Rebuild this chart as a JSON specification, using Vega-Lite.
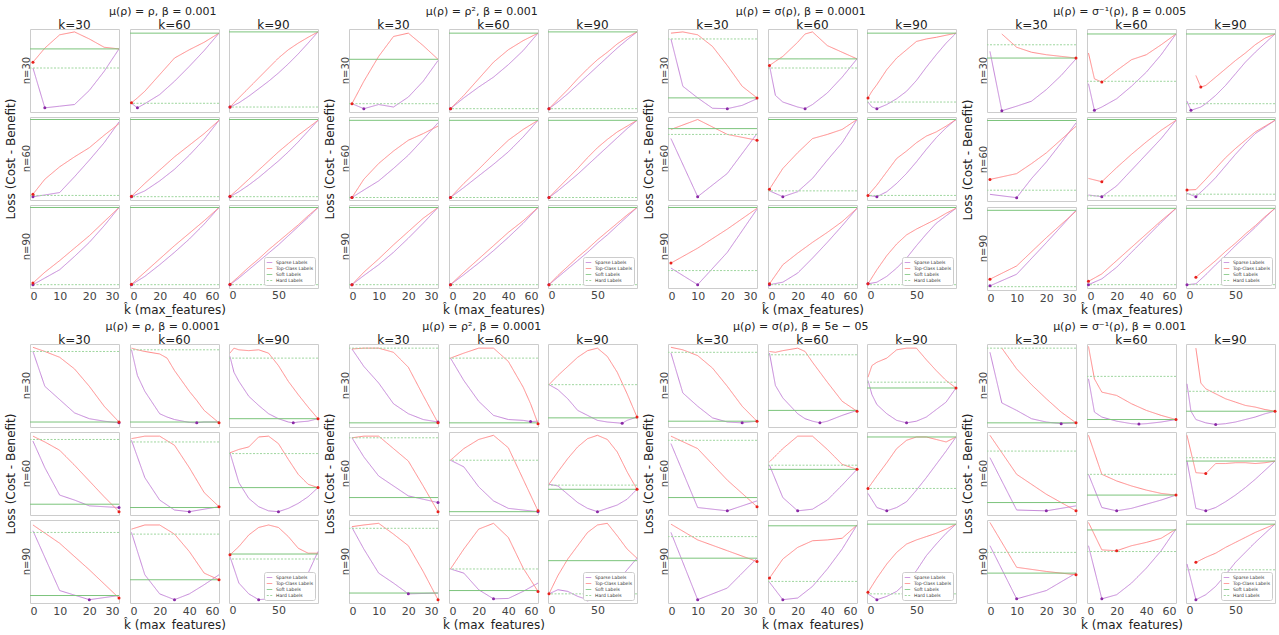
{
"$schema":"https://vega.github.io/schema/vega-lite/v6.json",
"padding":{"left":4,"right":0,"top":6,"bottom":0},
"data":{"values":[
{"g":1,"n":30,"k":30,"x":1,"sp":0.53,"tc":0.6},{"g":1,"n":30,"k":30,"x":5,"sp":0.05,"tc":0.77},{"g":1,"n":30,"k":30,"x":10,"sp":0.07,"tc":0.93},{"g":1,"n":30,"k":30,"x":15,"sp":0.09,"tc":0.965},{"g":1,"n":30,"k":30,"x":20,"sp":0.26,"tc":0.88},{"g":1,"n":30,"k":30,"x":25,"sp":0.49,"tc":0.78},{"g":1,"n":30,"k":30,"x":30,"sp":0.76,"tc":0.76},{"g":1,"n":30,"k":30,"so":0.76,"hd":0.53},
{"g":1,"n":30,"k":60,"x":1,"sp":0.105,"tc":0.11},{"g":1,"n":30,"k":60,"x":5,"sp":0.05,"tc":0.17},{"g":1,"n":30,"k":60,"x":10,"sp":0.1,"tc":0.25},{"g":1,"n":30,"k":60,"x":20,"sp":0.21,"tc":0.45},{"g":1,"n":30,"k":60,"x":30,"sp":0.37,"tc":0.65},{"g":1,"n":30,"k":60,"x":40,"sp":0.55,"tc":0.75},{"g":1,"n":30,"k":60,"x":50,"sp":0.74,"tc":0.84},{"g":1,"n":30,"k":60,"x":60,"sp":0.95,"tc":0.95},{"g":1,"n":30,"k":60,"so":0.95,"hd":0.105},
{"g":1,"n":30,"k":90,"x":1,"sp":0.06,"tc":0.06},{"g":1,"n":30,"k":90,"x":10,"sp":0.11,"tc":0.17},{"g":1,"n":30,"k":90,"x":20,"sp":0.19,"tc":0.29},{"g":1,"n":30,"k":90,"x":30,"sp":0.28,"tc":0.41},{"g":1,"n":30,"k":90,"x":40,"sp":0.37,"tc":0.53},{"g":1,"n":30,"k":90,"x":50,"sp":0.47,"tc":0.65},{"g":1,"n":30,"k":90,"x":60,"sp":0.58,"tc":0.75},{"g":1,"n":30,"k":90,"x":70,"sp":0.7,"tc":0.83},{"g":1,"n":30,"k":90,"x":80,"sp":0.83,"tc":0.9},{"g":1,"n":30,"k":90,"x":90,"sp":0.965,"tc":0.965},{"g":1,"n":30,"k":90,"so":0.965,"hd":0.06},
{"g":1,"n":60,"k":30,"x":1,"sp":0.04,"tc":0.07},{"g":1,"n":60,"k":30,"x":5,"sp":0.06,"tc":0.25},{"g":1,"n":60,"k":30,"x":10,"sp":0.09,"tc":0.4},{"g":1,"n":60,"k":30,"x":15,"sp":0.28,"tc":0.52},{"g":1,"n":60,"k":30,"x":20,"sp":0.48,"tc":0.63},{"g":1,"n":60,"k":30,"x":25,"sp":0.69,"tc":0.78},{"g":1,"n":60,"k":30,"x":30,"sp":0.94,"tc":0.92},{"g":1,"n":60,"k":30,"so":0.97,"hd":0.055},
{"g":1,"n":60,"k":60,"x":1,"sp":0.04,"tc":0.045},{"g":1,"n":60,"k":60,"x":10,"sp":0.11,"tc":0.2},{"g":1,"n":60,"k":60,"x":20,"sp":0.23,"tc":0.36},{"g":1,"n":60,"k":60,"x":30,"sp":0.37,"tc":0.52},{"g":1,"n":60,"k":60,"x":40,"sp":0.54,"tc":0.66},{"g":1,"n":60,"k":60,"x":50,"sp":0.73,"tc":0.8},{"g":1,"n":60,"k":60,"x":60,"sp":0.96,"tc":0.96},{"g":1,"n":60,"k":60,"so":0.97,"hd":0.04},
{"g":1,"n":60,"k":90,"x":1,"sp":0.04,"tc":0.045},{"g":1,"n":60,"k":90,"x":10,"sp":0.1,"tc":0.14},{"g":1,"n":60,"k":90,"x":20,"sp":0.18,"tc":0.25},{"g":1,"n":60,"k":90,"x":30,"sp":0.27,"tc":0.36},{"g":1,"n":60,"k":90,"x":40,"sp":0.37,"tc":0.47},{"g":1,"n":60,"k":90,"x":50,"sp":0.47,"tc":0.58},{"g":1,"n":60,"k":90,"x":60,"sp":0.58,"tc":0.68},{"g":1,"n":60,"k":90,"x":70,"sp":0.7,"tc":0.78},{"g":1,"n":60,"k":90,"x":80,"sp":0.83,"tc":0.87},{"g":1,"n":60,"k":90,"x":90,"sp":0.96,"tc":0.96},{"g":1,"n":60,"k":90,"so":0.97,"hd":0.04},
{"g":1,"n":90,"k":30,"x":1,"sp":0.04,"tc":0.06},{"g":1,"n":90,"k":30,"x":5,"sp":0.12,"tc":0.19},{"g":1,"n":90,"k":30,"x":10,"sp":0.22,"tc":0.33},{"g":1,"n":90,"k":30,"x":15,"sp":0.38,"tc":0.48},{"g":1,"n":90,"k":30,"x":20,"sp":0.55,"tc":0.63},{"g":1,"n":90,"k":30,"x":25,"sp":0.75,"tc":0.8},{"g":1,"n":90,"k":30,"x":30,"sp":0.97,"tc":0.97},{"g":1,"n":90,"k":30,"so":0.97,"hd":0.04},
{"g":1,"n":90,"k":60,"x":1,"sp":0.04,"tc":0.045},{"g":1,"n":90,"k":60,"x":10,"sp":0.14,"tc":0.19},{"g":1,"n":90,"k":60,"x":20,"sp":0.28,"tc":0.35},{"g":1,"n":90,"k":60,"x":30,"sp":0.43,"tc":0.51},{"g":1,"n":90,"k":60,"x":40,"sp":0.59,"tc":0.66},{"g":1,"n":90,"k":60,"x":50,"sp":0.77,"tc":0.81},{"g":1,"n":90,"k":60,"x":60,"sp":0.97,"tc":0.97},{"g":1,"n":90,"k":60,"so":0.97,"hd":0.04},
{"g":1,"n":90,"k":90,"x":1,"sp":0.04,"tc":0.045},{"g":1,"n":90,"k":90,"x":10,"sp":0.12,"tc":0.14},{"g":1,"n":90,"k":90,"x":20,"sp":0.22,"tc":0.25},{"g":1,"n":90,"k":90,"x":30,"sp":0.32,"tc":0.35},{"g":1,"n":90,"k":90,"x":40,"sp":0.42,"tc":0.46},{"g":1,"n":90,"k":90,"x":50,"sp":0.52,"tc":0.56},{"g":1,"n":90,"k":90,"x":60,"sp":0.63,"tc":0.66},{"g":1,"n":90,"k":90,"x":70,"sp":0.74,"tc":0.76},{"g":1,"n":90,"k":90,"x":80,"sp":0.85,"tc":0.87},{"g":1,"n":90,"k":90,"x":90,"sp":0.97,"tc":0.97},{"g":1,"n":90,"k":90,"so":0.97,"hd":0.04},
{"g":2,"n":30,"k":30,"x":1,"sp":0.1,"tc":0.1},{"g":2,"n":30,"k":30,"x":5,"sp":0.04,"tc":0.37},{"g":2,"n":30,"k":30,"x":10,"sp":0.09,"tc":0.67},{"g":2,"n":30,"k":30,"x":15,"sp":0.06,"tc":0.91},{"g":2,"n":30,"k":30,"x":20,"sp":0.18,"tc":0.95},{"g":2,"n":30,"k":30,"x":25,"sp":0.37,"tc":0.8},{"g":2,"n":30,"k":30,"x":30,"sp":0.62,"tc":0.635},{"g":2,"n":30,"k":30,"so":0.635,"hd":0.1},
{"g":2,"n":30,"k":60,"x":1,"sp":0.04,"tc":0.04},{"g":2,"n":30,"k":60,"x":10,"sp":0.17,"tc":0.2},{"g":2,"n":30,"k":60,"x":20,"sp":0.3,"tc":0.4},{"g":2,"n":30,"k":60,"x":30,"sp":0.42,"tc":0.6},{"g":2,"n":30,"k":60,"x":40,"sp":0.57,"tc":0.75},{"g":2,"n":30,"k":60,"x":50,"sp":0.74,"tc":0.86},{"g":2,"n":30,"k":60,"x":60,"sp":0.95,"tc":0.95},{"g":2,"n":30,"k":60,"so":0.95,"hd":0.04},
{"g":2,"n":30,"k":90,"x":1,"sp":0.04,"tc":0.04},{"g":2,"n":30,"k":90,"x":10,"sp":0.12,"tc":0.15},{"g":2,"n":30,"k":90,"x":20,"sp":0.22,"tc":0.27},{"g":2,"n":30,"k":90,"x":30,"sp":0.33,"tc":0.4},{"g":2,"n":30,"k":90,"x":40,"sp":0.44,"tc":0.52},{"g":2,"n":30,"k":90,"x":50,"sp":0.55,"tc":0.63},{"g":2,"n":30,"k":90,"x":60,"sp":0.66,"tc":0.72},{"g":2,"n":30,"k":90,"x":70,"sp":0.77,"tc":0.82},{"g":2,"n":30,"k":90,"x":80,"sp":0.87,"tc":0.9},{"g":2,"n":30,"k":90,"x":90,"sp":0.965,"tc":0.965},{"g":2,"n":30,"k":90,"so":0.965,"hd":0.04},
{"g":2,"n":60,"k":30,"x":1,"sp":0.03,"tc":0.03},{"g":2,"n":60,"k":30,"x":5,"sp":0.12,"tc":0.25},{"g":2,"n":60,"k":30,"x":10,"sp":0.23,"tc":0.44},{"g":2,"n":60,"k":30,"x":15,"sp":0.38,"tc":0.59},{"g":2,"n":60,"k":30,"x":20,"sp":0.54,"tc":0.72},{"g":2,"n":60,"k":30,"x":25,"sp":0.73,"tc":0.8},{"g":2,"n":60,"k":30,"x":30,"sp":0.93,"tc":0.89},{"g":2,"n":60,"k":30,"so":0.96,"hd":0.03},
{"g":2,"n":60,"k":60,"x":1,"sp":0.03,"tc":0.03},{"g":2,"n":60,"k":60,"x":10,"sp":0.15,"tc":0.2},{"g":2,"n":60,"k":60,"x":20,"sp":0.29,"tc":0.37},{"g":2,"n":60,"k":60,"x":30,"sp":0.43,"tc":0.55},{"g":2,"n":60,"k":60,"x":40,"sp":0.58,"tc":0.72},{"g":2,"n":60,"k":60,"x":50,"sp":0.76,"tc":0.85},{"g":2,"n":60,"k":60,"x":60,"sp":0.96,"tc":0.96},{"g":2,"n":60,"k":60,"so":0.96,"hd":0.03},
{"g":2,"n":60,"k":90,"x":1,"sp":0.03,"tc":0.03},{"g":2,"n":60,"k":90,"x":10,"sp":0.11,"tc":0.14},{"g":2,"n":60,"k":90,"x":20,"sp":0.21,"tc":0.26},{"g":2,"n":60,"k":90,"x":30,"sp":0.31,"tc":0.38},{"g":2,"n":60,"k":90,"x":40,"sp":0.42,"tc":0.51},{"g":2,"n":60,"k":90,"x":50,"sp":0.53,"tc":0.63},{"g":2,"n":60,"k":90,"x":60,"sp":0.64,"tc":0.73},{"g":2,"n":60,"k":90,"x":70,"sp":0.75,"tc":0.82},{"g":2,"n":60,"k":90,"x":80,"sp":0.86,"tc":0.89},{"g":2,"n":60,"k":90,"x":90,"sp":0.96,"tc":0.96},{"g":2,"n":60,"k":90,"so":0.96,"hd":0.03},
{"g":2,"n":90,"k":30,"x":1,"sp":0.04,"tc":0.04},{"g":2,"n":90,"k":30,"x":5,"sp":0.15,"tc":0.19},{"g":2,"n":90,"k":30,"x":10,"sp":0.28,"tc":0.35},{"g":2,"n":90,"k":30,"x":15,"sp":0.43,"tc":0.52},{"g":2,"n":90,"k":30,"x":20,"sp":0.6,"tc":0.68},{"g":2,"n":90,"k":30,"x":25,"sp":0.78,"tc":0.84},{"g":2,"n":90,"k":30,"x":30,"sp":0.97,"tc":0.97},{"g":2,"n":90,"k":30,"so":0.97,"hd":0.04},
{"g":2,"n":90,"k":60,"x":1,"sp":0.04,"tc":0.04},{"g":2,"n":90,"k":60,"x":10,"sp":0.16,"tc":0.19},{"g":2,"n":90,"k":60,"x":20,"sp":0.3,"tc":0.35},{"g":2,"n":90,"k":60,"x":30,"sp":0.45,"tc":0.51},{"g":2,"n":90,"k":60,"x":40,"sp":0.61,"tc":0.67},{"g":2,"n":90,"k":60,"x":50,"sp":0.78,"tc":0.81},{"g":2,"n":90,"k":60,"x":60,"sp":0.97,"tc":0.97},{"g":2,"n":90,"k":60,"so":0.97,"hd":0.04},
{"g":2,"n":90,"k":90,"x":1,"sp":0.04,"tc":0.04},{"g":2,"n":90,"k":90,"x":10,"sp":0.13,"tc":0.15},{"g":2,"n":90,"k":90,"x":20,"sp":0.23,"tc":0.26},{"g":2,"n":90,"k":90,"x":30,"sp":0.33,"tc":0.37},{"g":2,"n":90,"k":90,"x":40,"sp":0.43,"tc":0.47},{"g":2,"n":90,"k":90,"x":50,"sp":0.54,"tc":0.58},{"g":2,"n":90,"k":90,"x":60,"sp":0.64,"tc":0.68},{"g":2,"n":90,"k":90,"x":70,"sp":0.75,"tc":0.78},{"g":2,"n":90,"k":90,"x":80,"sp":0.86,"tc":0.88},{"g":2,"n":90,"k":90,"x":90,"sp":0.97,"tc":0.97},{"g":2,"n":90,"k":90,"so":0.97,"hd":0.04},
{"g":3,"n":30,"k":30,"x":1,"sp":0.88,"tc":0.95},{"g":3,"n":30,"k":30,"x":5,"sp":0.31,"tc":0.965},{"g":3,"n":30,"k":30,"x":10,"sp":0.17,"tc":0.93},{"g":3,"n":30,"k":30,"x":15,"sp":0.045,"tc":0.79},{"g":3,"n":30,"k":30,"x":20,"sp":0.04,"tc":0.56},{"g":3,"n":30,"k":30,"x":25,"sp":0.08,"tc":0.31},{"g":3,"n":30,"k":30,"x":30,"sp":0.16,"tc":0.17},{"g":3,"n":30,"k":30,"so":0.17,"hd":0.88},
{"g":3,"n":30,"k":60,"x":1,"sp":0.56,"tc":0.56},{"g":3,"n":30,"k":60,"x":5,"sp":0.2,"tc":0.61},{"g":3,"n":30,"k":60,"x":10,"sp":0.12,"tc":0.67},{"g":3,"n":30,"k":60,"x":20,"sp":0.06,"tc":0.84},{"g":3,"n":30,"k":60,"x":25,"sp":0.04,"tc":0.94},{"g":3,"n":30,"k":60,"x":30,"sp":0.09,"tc":0.965},{"g":3,"n":30,"k":60,"x":40,"sp":0.23,"tc":0.8},{"g":3,"n":30,"k":60,"x":50,"sp":0.42,"tc":0.72},{"g":3,"n":30,"k":60,"x":60,"sp":0.64,"tc":0.64},{"g":3,"n":30,"k":60,"so":0.64,"hd":0.53},
{"g":3,"n":30,"k":90,"x":1,"sp":0.12,"tc":0.17},{"g":3,"n":30,"k":90,"x":5,"sp":0.06,"tc":0.25},{"g":3,"n":30,"k":90,"x":10,"sp":0.04,"tc":0.33},{"g":3,"n":30,"k":90,"x":20,"sp":0.09,"tc":0.51},{"g":3,"n":30,"k":90,"x":30,"sp":0.16,"tc":0.65},{"g":3,"n":30,"k":90,"x":40,"sp":0.25,"tc":0.75},{"g":3,"n":30,"k":90,"x":50,"sp":0.38,"tc":0.85},{"g":3,"n":30,"k":90,"x":60,"sp":0.54,"tc":0.88},{"g":3,"n":30,"k":90,"x":70,"sp":0.69,"tc":0.9},{"g":3,"n":30,"k":90,"x":80,"sp":0.83,"tc":0.925},{"g":3,"n":30,"k":90,"x":90,"sp":0.95,"tc":0.95},{"g":3,"n":30,"k":90,"so":0.95,"hd":0.12},
{"g":3,"n":60,"k":30,"x":1,"sp":0.74,"tc":0.85},{"g":3,"n":60,"k":30,"x":10,"sp":0.04,"tc":0.97},{"g":3,"n":60,"k":30,"x":20,"sp":0.32,"tc":0.79},{"g":3,"n":60,"k":30,"x":30,"sp":0.8,"tc":0.72},{"g":3,"n":60,"k":30,"so":0.86,"hd":0.79},
{"g":3,"n":60,"k":60,"x":1,"sp":0.11,"tc":0.13},{"g":3,"n":60,"k":60,"x":10,"sp":0.04,"tc":0.38},{"g":3,"n":60,"k":60,"x":20,"sp":0.1,"tc":0.57},{"g":3,"n":60,"k":60,"x":30,"sp":0.26,"tc":0.74},{"g":3,"n":60,"k":60,"x":40,"sp":0.48,"tc":0.79},{"g":3,"n":60,"k":60,"x":50,"sp":0.69,"tc":0.85},{"g":3,"n":60,"k":60,"x":60,"sp":0.97,"tc":0.97},{"g":3,"n":60,"k":60,"so":0.97,"hd":0.11},
{"g":3,"n":60,"k":90,"x":1,"sp":0.055,"tc":0.055},{"g":3,"n":60,"k":90,"x":10,"sp":0.04,"tc":0.18},{"g":3,"n":60,"k":90,"x":20,"sp":0.1,"tc":0.34},{"g":3,"n":60,"k":90,"x":30,"sp":0.2,"tc":0.5},{"g":3,"n":60,"k":90,"x":40,"sp":0.32,"tc":0.59},{"g":3,"n":60,"k":90,"x":50,"sp":0.46,"tc":0.69},{"g":3,"n":60,"k":90,"x":60,"sp":0.61,"tc":0.77},{"g":3,"n":60,"k":90,"x":70,"sp":0.75,"tc":0.82},{"g":3,"n":60,"k":90,"x":80,"sp":0.87,"tc":0.89},{"g":3,"n":60,"k":90,"x":90,"sp":0.97,"tc":0.97},{"g":3,"n":60,"k":90,"so":0.97,"hd":0.055},
{"g":3,"n":90,"k":30,"x":1,"sp":0.24,"tc":0.3},{"g":3,"n":90,"k":30,"x":10,"sp":0.04,"tc":0.48},{"g":3,"n":90,"k":30,"x":20,"sp":0.43,"tc":0.71},{"g":3,"n":90,"k":30,"x":30,"sp":0.95,"tc":0.96},{"g":3,"n":90,"k":30,"so":0.97,"hd":0.21},
{"g":3,"n":90,"k":60,"x":1,"sp":0.04,"tc":0.05},{"g":3,"n":90,"k":60,"x":10,"sp":0.07,"tc":0.28},{"g":3,"n":90,"k":60,"x":20,"sp":0.18,"tc":0.42},{"g":3,"n":90,"k":60,"x":30,"sp":0.36,"tc":0.55},{"g":3,"n":90,"k":60,"x":40,"sp":0.55,"tc":0.67},{"g":3,"n":90,"k":60,"x":50,"sp":0.75,"tc":0.8},{"g":3,"n":90,"k":60,"x":60,"sp":0.96,"tc":0.96},{"g":3,"n":90,"k":60,"so":0.97,"hd":0.04},
{"g":3,"n":90,"k":90,"x":1,"sp":0.05,"tc":0.05},{"g":3,"n":90,"k":90,"x":10,"sp":0.07,"tc":0.22},{"g":3,"n":90,"k":90,"x":20,"sp":0.14,"tc":0.39},{"g":3,"n":90,"k":90,"x":30,"sp":0.24,"tc":0.53},{"g":3,"n":90,"k":90,"x":40,"sp":0.36,"tc":0.64},{"g":3,"n":90,"k":90,"x":50,"sp":0.51,"tc":0.71},{"g":3,"n":90,"k":90,"x":60,"sp":0.65,"tc":0.77},{"g":3,"n":90,"k":90,"x":70,"sp":0.78,"tc":0.83},{"g":3,"n":90,"k":90,"x":80,"sp":0.87,"tc":0.9},{"g":3,"n":90,"k":90,"x":90,"sp":0.96,"tc":0.96},{"g":3,"n":90,"k":90,"so":0.97,"hd":0.04},
{"g":4,"n":30,"k":30,"x":1,"sp":0.73},{"g":4,"n":30,"k":30,"x":5,"sp":0.015,"tc":0.94},{"g":4,"n":30,"k":30,"x":10,"sp":0.07,"tc":0.78},{"g":4,"n":30,"k":30,"x":15,"sp":0.13,"tc":0.72},{"g":4,"n":30,"k":30,"x":20,"sp":0.27,"tc":0.69},{"g":4,"n":30,"k":30,"x":25,"sp":0.44,"tc":0.67},{"g":4,"n":30,"k":30,"x":30,"sp":0.64,"tc":0.65},{"g":4,"n":30,"k":30,"so":0.65,"hd":0.81},
{"g":4,"n":30,"k":60,"x":1,"sp":0.34,"tc":0.71},{"g":4,"n":30,"k":60,"x":5,"sp":0.02,"tc":0.4},{"g":4,"n":30,"k":60,"x":10,"sp":0.06,"tc":0.36},{"g":4,"n":30,"k":60,"x":20,"sp":0.16,"tc":0.5},{"g":4,"n":30,"k":60,"x":30,"sp":0.31,"tc":0.63},{"g":4,"n":30,"k":60,"x":40,"sp":0.48,"tc":0.69},{"g":4,"n":30,"k":60,"x":50,"sp":0.69,"tc":0.81},{"g":4,"n":30,"k":60,"x":60,"sp":0.94,"tc":0.94},{"g":4,"n":30,"k":60,"so":0.94,"hd":0.37},
{"g":4,"n":30,"k":90,"x":1,"sp":0.13},{"g":4,"n":30,"k":90,"x":5,"sp":0.02},{"g":4,"n":30,"k":90,"x":10,"sp":0.04,"tc":0.44},{"g":4,"n":30,"k":90,"x":15,"sp":0.06,"tc":0.3},{"g":4,"n":30,"k":90,"x":20,"sp":0.1,"tc":0.32},{"g":4,"n":30,"k":90,"x":30,"sp":0.2,"tc":0.42},{"g":4,"n":30,"k":90,"x":40,"sp":0.32,"tc":0.52},{"g":4,"n":30,"k":90,"x":50,"sp":0.46,"tc":0.62},{"g":4,"n":30,"k":90,"x":60,"sp":0.6,"tc":0.71},{"g":4,"n":30,"k":90,"x":70,"sp":0.72,"tc":0.81},{"g":4,"n":30,"k":90,"x":80,"sp":0.83,"tc":0.89},{"g":4,"n":30,"k":90,"x":90,"sp":0.94,"tc":0.94},{"g":4,"n":30,"k":90,"so":0.94,"hd":0.1},
{"g":4,"n":60,"k":30,"x":1,"sp":0.08,"tc":0.26},{"g":4,"n":60,"k":30,"x":10,"sp":0.04,"tc":0.33},{"g":4,"n":60,"k":30,"x":15,"sp":0.27,"tc":0.45},{"g":4,"n":60,"k":30,"x":20,"sp":0.47,"tc":0.58},{"g":4,"n":60,"k":30,"x":25,"sp":0.7,"tc":0.74},{"g":4,"n":60,"k":30,"x":30,"sp":0.94,"tc":0.9},{"g":4,"n":60,"k":30,"so":0.97,"hd":0.13},
{"g":4,"n":60,"k":60,"x":1,"sp":0.06,"tc":0.26},{"g":4,"n":60,"k":60,"x":10,"sp":0.04,"tc":0.22},{"g":4,"n":60,"k":60,"x":20,"sp":0.17,"tc":0.39},{"g":4,"n":60,"k":60,"x":30,"sp":0.36,"tc":0.55},{"g":4,"n":60,"k":60,"x":40,"sp":0.55,"tc":0.7},{"g":4,"n":60,"k":60,"x":50,"sp":0.74,"tc":0.84},{"g":4,"n":60,"k":60,"x":60,"sp":0.96,"tc":0.96},{"g":4,"n":60,"k":60,"so":0.97,"hd":0.05},
{"g":4,"n":60,"k":90,"x":1,"sp":0.08,"tc":0.12},{"g":4,"n":60,"k":90,"x":10,"sp":0.04,"tc":0.125},{"g":4,"n":60,"k":90,"x":20,"sp":0.15,"tc":0.25},{"g":4,"n":60,"k":90,"x":30,"sp":0.27,"tc":0.38},{"g":4,"n":60,"k":90,"x":40,"sp":0.41,"tc":0.51},{"g":4,"n":60,"k":90,"x":50,"sp":0.55,"tc":0.62},{"g":4,"n":60,"k":90,"x":60,"sp":0.68,"tc":0.72},{"g":4,"n":60,"k":90,"x":70,"sp":0.8,"tc":0.82},{"g":4,"n":60,"k":90,"x":80,"sp":0.88,"tc":0.89},{"g":4,"n":60,"k":90,"x":90,"sp":0.96,"tc":0.96},{"g":4,"n":60,"k":90,"so":0.97,"hd":0.07},
{"g":4,"n":90,"k":30,"x":1,"sp":0.05,"tc":0.13},{"g":4,"n":90,"k":30,"x":10,"sp":0.19,"tc":0.29},{"g":4,"n":90,"k":30,"x":20,"sp":0.57,"tc":0.63},{"g":4,"n":90,"k":30,"x":30,"sp":0.96,"tc":0.95},{"g":4,"n":90,"k":30,"so":0.96,"hd":0.04},
{"g":4,"n":90,"k":60,"x":1,"sp":0.04,"tc":0.08},{"g":4,"n":90,"k":60,"x":10,"sp":0.11,"tc":0.17},{"g":4,"n":90,"k":60,"x":20,"sp":0.25,"tc":0.33},{"g":4,"n":90,"k":60,"x":30,"sp":0.43,"tc":0.49},{"g":4,"n":90,"k":60,"x":40,"sp":0.61,"tc":0.65},{"g":4,"n":90,"k":60,"x":50,"sp":0.79,"tc":0.81},{"g":4,"n":90,"k":60,"x":60,"sp":0.96,"tc":0.96},{"g":4,"n":90,"k":60,"so":0.96,"hd":0.04},
{"g":4,"n":90,"k":90,"x":1,"sp":0.04},{"g":4,"n":90,"k":90,"x":10,"sp":0.05,"tc":0.13},{"g":4,"n":90,"k":90,"x":20,"sp":0.16,"tc":0.23},{"g":4,"n":90,"k":90,"x":30,"sp":0.28,"tc":0.33},{"g":4,"n":90,"k":90,"x":40,"sp":0.39,"tc":0.44},{"g":4,"n":90,"k":90,"x":50,"sp":0.51,"tc":0.54},{"g":4,"n":90,"k":90,"x":60,"sp":0.62,"tc":0.65},{"g":4,"n":90,"k":90,"x":70,"sp":0.73,"tc":0.75},{"g":4,"n":90,"k":90,"x":80,"sp":0.85,"tc":0.86},{"g":4,"n":90,"k":90,"x":90,"sp":0.96,"tc":0.96},{"g":4,"n":90,"k":90,"so":0.96,"hd":0.04},
{"g":5,"n":30,"k":30,"x":1,"sp":0.91,"tc":0.96},{"g":5,"n":30,"k":30,"x":5,"sp":0.49,"tc":0.91},{"g":5,"n":30,"k":30,"x":10,"sp":0.33,"tc":0.84},{"g":5,"n":30,"k":30,"x":15,"sp":0.17,"tc":0.7},{"g":5,"n":30,"k":30,"x":20,"sp":0.1,"tc":0.49},{"g":5,"n":30,"k":30,"x":25,"sp":0.07,"tc":0.25},{"g":5,"n":30,"k":30,"x":30,"sp":0.05,"tc":0.06},{"g":5,"n":30,"k":30,"so":0.06,"hd":0.91},
{"g":5,"n":30,"k":60,"x":1,"sp":0.93,"tc":0.95},{"g":5,"n":30,"k":60,"x":5,"sp":0.62,"tc":0.93},{"g":5,"n":30,"k":60,"x":10,"sp":0.43,"tc":0.91},{"g":5,"n":30,"k":60,"x":20,"sp":0.16,"tc":0.88},{"g":5,"n":30,"k":60,"x":25,"sp":0.12,"tc":0.83},{"g":5,"n":30,"k":60,"x":30,"sp":0.09,"tc":0.68},{"g":5,"n":30,"k":60,"x":40,"sp":0.055,"tc":0.43},{"g":5,"n":30,"k":60,"x":45,"sp":0.05,"tc":0.32},{"g":5,"n":30,"k":60,"x":50,"sp":0.06,"tc":0.2},{"g":5,"n":30,"k":60,"x":60,"sp":0.06,"tc":0.05},{"g":5,"n":30,"k":60,"so":0.06,"hd":0.93},
{"g":5,"n":30,"k":90,"x":1,"sp":0.85,"tc":0.89},{"g":5,"n":30,"k":90,"x":5,"sp":0.66,"tc":0.95},{"g":5,"n":30,"k":90,"x":10,"sp":0.55,"tc":0.93},{"g":5,"n":30,"k":90,"x":20,"sp":0.37,"tc":0.92},{"g":5,"n":30,"k":90,"x":30,"sp":0.26,"tc":0.93},{"g":5,"n":30,"k":90,"x":40,"sp":0.16,"tc":0.89},{"g":5,"n":30,"k":90,"x":50,"sp":0.1,"tc":0.74},{"g":5,"n":30,"k":90,"x":60,"sp":0.06,"tc":0.55},{"g":5,"n":30,"k":90,"x":65,"sp":0.05,"tc":0.47},{"g":5,"n":30,"k":90,"x":70,"sp":0.06,"tc":0.39},{"g":5,"n":30,"k":90,"x":80,"sp":0.07,"tc":0.24},{"g":5,"n":30,"k":90,"x":90,"sp":0.1,"tc":0.1},{"g":5,"n":30,"k":90,"so":0.1,"hd":0.83},
{"g":5,"n":60,"k":30,"x":1,"sp":0.89,"tc":0.95},{"g":5,"n":60,"k":30,"x":5,"sp":0.57,"tc":0.88},{"g":5,"n":60,"k":30,"x":10,"sp":0.24,"tc":0.78},{"g":5,"n":60,"k":30,"x":15,"sp":0.18,"tc":0.6},{"g":5,"n":60,"k":30,"x":20,"sp":0.11,"tc":0.41},{"g":5,"n":60,"k":30,"x":25,"sp":0.1,"tc":0.22},{"g":5,"n":60,"k":30,"x":30,"sp":0.09,"tc":0.04},{"g":5,"n":60,"k":30,"so":0.13,"hd":0.91},
{"g":5,"n":60,"k":60,"x":1,"sp":0.9,"tc":0.92},{"g":5,"n":60,"k":60,"x":10,"sp":0.45,"tc":0.95},{"g":5,"n":60,"k":60,"x":20,"sp":0.18,"tc":0.95},{"g":5,"n":60,"k":60,"x":30,"sp":0.06,"tc":0.84},{"g":5,"n":60,"k":60,"x":40,"sp":0.04,"tc":0.57},{"g":5,"n":60,"k":60,"x":50,"sp":0.07,"tc":0.27},{"g":5,"n":60,"k":60,"x":60,"sp":0.1,"tc":0.1},{"g":5,"n":60,"k":60,"so":0.09,"hd":0.88},
{"g":5,"n":60,"k":90,"x":1,"sp":0.75,"tc":0.75},{"g":5,"n":60,"k":90,"x":10,"sp":0.39,"tc":0.79},{"g":5,"n":60,"k":90,"x":20,"sp":0.2,"tc":0.82},{"g":5,"n":60,"k":90,"x":30,"sp":0.1,"tc":0.94},{"g":5,"n":60,"k":90,"x":40,"sp":0.05,"tc":0.95},{"g":5,"n":60,"k":90,"x":50,"sp":0.04,"tc":0.86},{"g":5,"n":60,"k":90,"x":60,"sp":0.08,"tc":0.67},{"g":5,"n":60,"k":90,"x":70,"sp":0.14,"tc":0.49},{"g":5,"n":60,"k":90,"x":80,"sp":0.22,"tc":0.37},{"g":5,"n":60,"k":90,"x":90,"sp":0.33,"tc":0.33},{"g":5,"n":60,"k":90,"so":0.33,"hd":0.74},
{"g":5,"n":90,"k":30,"x":1,"sp":0.87,"tc":0.94},{"g":5,"n":90,"k":30,"x":10,"sp":0.15,"tc":0.72},{"g":5,"n":90,"k":30,"x":20,"sp":0.04,"tc":0.4},{"g":5,"n":90,"k":30,"x":30,"sp":0.09,"tc":0.06},{"g":5,"n":90,"k":30,"so":0.09,"hd":0.85},
{"g":5,"n":90,"k":60,"x":1,"sp":0.85,"tc":0.89},{"g":5,"n":90,"k":60,"x":10,"sp":0.34,"tc":0.94},{"g":5,"n":90,"k":60,"x":20,"sp":0.11,"tc":0.94},{"g":5,"n":90,"k":60,"x":30,"sp":0.04,"tc":0.83},{"g":5,"n":90,"k":60,"x":40,"sp":0.11,"tc":0.62},{"g":5,"n":90,"k":60,"x":50,"sp":0.22,"tc":0.36},{"g":5,"n":90,"k":60,"x":60,"sp":0.34,"tc":0.28},{"g":5,"n":90,"k":60,"so":0.28,"hd":0.83},
{"g":5,"n":90,"k":90,"x":1,"sp":0.56,"tc":0.58},{"g":5,"n":90,"k":90,"x":10,"sp":0.24,"tc":0.68},{"g":5,"n":90,"k":90,"x":20,"sp":0.11,"tc":0.82},{"g":5,"n":90,"k":90,"x":30,"sp":0.04,"tc":0.91},{"g":5,"n":90,"k":90,"x":40,"sp":0.05,"tc":0.94},{"g":5,"n":90,"k":90,"x":50,"sp":0.08,"tc":0.91},{"g":5,"n":90,"k":90,"x":60,"sp":0.15,"tc":0.8},{"g":5,"n":90,"k":90,"x":70,"sp":0.24,"tc":0.66},{"g":5,"n":90,"k":90,"x":80,"sp":0.36,"tc":0.6},{"g":5,"n":90,"k":90,"x":90,"sp":0.62,"tc":0.6},{"g":5,"n":90,"k":90,"so":0.59,"hd":0.53},
{"g":6,"n":30,"k":30,"x":1,"sp":0.94,"tc":0.94},{"g":6,"n":30,"k":30,"x":5,"sp":0.73,"tc":0.95},{"g":6,"n":30,"k":30,"x":10,"sp":0.53,"tc":0.95},{"g":6,"n":30,"k":30,"x":15,"sp":0.28,"tc":0.9},{"g":6,"n":30,"k":30,"x":20,"sp":0.16,"tc":0.72},{"g":6,"n":30,"k":30,"x":25,"sp":0.09,"tc":0.38},{"g":6,"n":30,"k":30,"x":30,"sp":0.06,"tc":0.05},{"g":6,"n":30,"k":30,"so":0.05,"hd":0.95},
{"g":6,"n":30,"k":60,"x":1,"sp":0.83,"tc":0.83},{"g":6,"n":30,"k":60,"x":10,"sp":0.56,"tc":0.89},{"g":6,"n":30,"k":60,"x":20,"sp":0.31,"tc":0.95},{"g":6,"n":30,"k":60,"x":30,"sp":0.14,"tc":0.95},{"g":6,"n":30,"k":60,"x":40,"sp":0.09,"tc":0.79},{"g":6,"n":30,"k":60,"x":50,"sp":0.08,"tc":0.48},{"g":6,"n":30,"k":60,"x":55,"sp":0.065,"tc":0.28},{"g":6,"n":30,"k":60,"x":60,"sp":0.07,"tc":0.04},{"g":6,"n":30,"k":60,"so":0.05,"hd":0.83},
{"g":6,"n":30,"k":90,"x":1,"sp":0.51,"tc":0.51},{"g":6,"n":30,"k":90,"x":10,"sp":0.45,"tc":0.62},{"g":6,"n":30,"k":90,"x":20,"sp":0.34,"tc":0.73},{"g":6,"n":30,"k":90,"x":30,"sp":0.2,"tc":0.84},{"g":6,"n":30,"k":90,"x":40,"sp":0.14,"tc":0.92},{"g":6,"n":30,"k":90,"x":50,"sp":0.08,"tc":0.95},{"g":6,"n":30,"k":90,"x":60,"sp":0.06,"tc":0.85},{"g":6,"n":30,"k":90,"x":70,"sp":0.05,"tc":0.66},{"g":6,"n":30,"k":90,"x":75,"sp":0.045,"tc":0.53},{"g":6,"n":30,"k":90,"x":80,"sp":0.08,"tc":0.4},{"g":6,"n":30,"k":90,"x":90,"sp":0.12,"tc":0.12},{"g":6,"n":30,"k":90,"so":0.11,"hd":0.51},
{"g":6,"n":60,"k":30,"x":1,"sp":0.93,"tc":0.93},{"g":6,"n":60,"k":30,"x":5,"sp":0.7,"tc":0.95},{"g":6,"n":60,"k":30,"x":10,"sp":0.47,"tc":0.95},{"g":6,"n":60,"k":30,"x":15,"sp":0.35,"tc":0.8},{"g":6,"n":60,"k":30,"x":20,"sp":0.23,"tc":0.65},{"g":6,"n":60,"k":30,"x":25,"sp":0.19,"tc":0.35},{"g":6,"n":60,"k":30,"x":30,"sp":0.15,"tc":0.04},{"g":6,"n":60,"k":30,"so":0.21,"hd":0.93},
{"g":6,"n":60,"k":60,"x":1,"sp":0.66,"tc":0.66},{"g":6,"n":60,"k":60,"x":10,"sp":0.58,"tc":0.8},{"g":6,"n":60,"k":60,"x":20,"sp":0.34,"tc":0.91},{"g":6,"n":60,"k":60,"x":30,"sp":0.17,"tc":0.96},{"g":6,"n":60,"k":60,"x":40,"sp":0.08,"tc":0.81},{"g":6,"n":60,"k":60,"x":50,"sp":0.06,"tc":0.43},{"g":6,"n":60,"k":60,"x":60,"sp":0.04,"tc":0.05},{"g":6,"n":60,"k":60,"so":0.04,"hd":0.66},
{"g":6,"n":60,"k":90,"x":1,"sp":0.37,"tc":0.37},{"g":6,"n":60,"k":90,"x":10,"sp":0.35,"tc":0.52},{"g":6,"n":60,"k":90,"x":20,"sp":0.25,"tc":0.68},{"g":6,"n":60,"k":90,"x":30,"sp":0.15,"tc":0.82},{"g":6,"n":60,"k":90,"x":40,"sp":0.08,"tc":0.92},{"g":6,"n":60,"k":90,"x":50,"sp":0.04,"tc":0.96},{"g":6,"n":60,"k":90,"x":60,"sp":0.08,"tc":0.91},{"g":6,"n":60,"k":90,"x":70,"sp":0.12,"tc":0.76},{"g":6,"n":60,"k":90,"x":80,"sp":0.19,"tc":0.52},{"g":6,"n":60,"k":90,"x":90,"sp":0.31,"tc":0.31},{"g":6,"n":60,"k":90,"so":0.31,"hd":0.36},
{"g":6,"n":90,"k":30,"x":1,"sp":0.91,"tc":0.92},{"g":6,"n":90,"k":30,"x":5,"sp":0.65,"tc":0.94},{"g":6,"n":90,"k":30,"x":10,"sp":0.36,"tc":0.96},{"g":6,"n":90,"k":30,"x":15,"sp":0.24,"tc":0.83},{"g":6,"n":90,"k":30,"x":20,"sp":0.11,"tc":0.69},{"g":6,"n":90,"k":30,"x":25,"sp":0.115,"tc":0.38},{"g":6,"n":90,"k":30,"x":30,"sp":0.12,"tc":0.04},{"g":6,"n":90,"k":30,"so":0.12,"hd":0.9},
{"g":6,"n":90,"k":60,"x":1,"sp":0.41,"tc":0.41},{"g":6,"n":90,"k":60,"x":10,"sp":0.36,"tc":0.65},{"g":6,"n":90,"k":60,"x":20,"sp":0.16,"tc":0.89},{"g":6,"n":90,"k":60,"x":30,"sp":0.05,"tc":0.96},{"g":6,"n":90,"k":60,"x":40,"sp":0.055,"tc":0.79},{"g":6,"n":90,"k":60,"x":50,"sp":0.14,"tc":0.42},{"g":6,"n":90,"k":60,"x":60,"sp":0.24,"tc":0.14},{"g":6,"n":90,"k":60,"so":0.15,"hd":0.41},
{"g":6,"n":90,"k":90,"x":1,"sp":0.11,"tc":0.11},{"g":6,"n":90,"k":90,"x":10,"sp":0.16,"tc":0.33},{"g":6,"n":90,"k":90,"x":20,"sp":0.14,"tc":0.53},{"g":6,"n":90,"k":90,"x":30,"sp":0.08,"tc":0.69},{"g":6,"n":90,"k":90,"x":40,"sp":0.04,"tc":0.85},{"g":6,"n":90,"k":90,"x":50,"sp":0.06,"tc":0.94},{"g":6,"n":90,"k":90,"x":60,"sp":0.1,"tc":0.96},{"g":6,"n":90,"k":90,"x":70,"sp":0.26,"tc":0.81},{"g":6,"n":90,"k":90,"x":80,"sp":0.4,"tc":0.65},{"g":6,"n":90,"k":90,"x":90,"sp":0.54,"tc":0.54},{"g":6,"n":90,"k":90,"so":0.51,"hd":0.11},
{"g":7,"n":30,"k":30,"x":1,"sp":0.89,"tc":0.96},{"g":7,"n":30,"k":30,"x":5,"sp":0.41,"tc":0.93},{"g":7,"n":30,"k":30,"x":10,"sp":0.25,"tc":0.86},{"g":7,"n":30,"k":30,"x":15,"sp":0.11,"tc":0.71},{"g":7,"n":30,"k":30,"x":20,"sp":0.06,"tc":0.49},{"g":7,"n":30,"k":30,"x":25,"sp":0.05,"tc":0.25},{"g":7,"n":30,"k":30,"x":30,"sp":0.07,"tc":0.07},{"g":7,"n":30,"k":30,"so":0.07,"hd":0.9},
{"g":7,"n":30,"k":60,"x":1,"sp":0.89,"tc":0.91},{"g":7,"n":30,"k":60,"x":5,"sp":0.5,"tc":0.9},{"g":7,"n":30,"k":60,"x":10,"sp":0.35,"tc":0.92},{"g":7,"n":30,"k":60,"x":20,"sp":0.16,"tc":0.95},{"g":7,"n":30,"k":60,"x":25,"sp":0.1,"tc":0.91},{"g":7,"n":30,"k":60,"x":30,"sp":0.07,"tc":0.78},{"g":7,"n":30,"k":60,"x":35,"sp":0.05,"tc":0.66},{"g":7,"n":30,"k":60,"x":40,"sp":0.07,"tc":0.54},{"g":7,"n":30,"k":60,"x":50,"sp":0.14,"tc":0.31},{"g":7,"n":30,"k":60,"x":60,"sp":0.2,"tc":0.19},{"g":7,"n":30,"k":60,"so":0.2,"hd":0.87},
{"g":7,"n":30,"k":90,"x":1,"sp":0.56,"tc":0.6},{"g":7,"n":30,"k":90,"x":5,"sp":0.39,"tc":0.74},{"g":7,"n":30,"k":90,"x":10,"sp":0.27,"tc":0.78},{"g":7,"n":30,"k":90,"x":20,"sp":0.16,"tc":0.83},{"g":7,"n":30,"k":90,"x":30,"sp":0.08,"tc":0.93},{"g":7,"n":30,"k":90,"x":40,"sp":0.05,"tc":0.95},{"g":7,"n":30,"k":90,"x":50,"sp":0.07,"tc":0.95},{"g":7,"n":30,"k":90,"x":60,"sp":0.12,"tc":0.81},{"g":7,"n":30,"k":90,"x":70,"sp":0.21,"tc":0.68},{"g":7,"n":30,"k":90,"x":80,"sp":0.3,"tc":0.56},{"g":7,"n":30,"k":90,"x":90,"sp":0.47,"tc":0.47},{"g":7,"n":30,"k":90,"so":0.47,"hd":0.54},
{"g":7,"n":60,"k":30,"x":1,"sp":0.86,"tc":0.95},{"g":7,"n":60,"k":30,"x":10,"sp":0.09,"tc":0.8},{"g":7,"n":60,"k":30,"x":20,"sp":0.05,"tc":0.42},{"g":7,"n":60,"k":30,"x":30,"sp":0.17,"tc":0.1},{"g":7,"n":60,"k":30,"so":0.21,"hd":0.9},
{"g":7,"n":60,"k":60,"x":1,"sp":0.6,"tc":0.64},{"g":7,"n":60,"k":60,"x":10,"sp":0.21,"tc":0.8},{"g":7,"n":60,"k":60,"x":20,"sp":0.05,"tc":0.95},{"g":7,"n":60,"k":60,"x":30,"sp":0.07,"tc":0.95},{"g":7,"n":60,"k":60,"x":40,"sp":0.18,"tc":0.79},{"g":7,"n":60,"k":60,"x":50,"sp":0.36,"tc":0.61},{"g":7,"n":60,"k":60,"x":60,"sp":0.55,"tc":0.55},{"g":7,"n":60,"k":60,"so":0.55,"hd":0.6},
{"g":7,"n":60,"k":90,"x":1,"sp":0.26,"tc":0.32},{"g":7,"n":60,"k":90,"x":10,"sp":0.09,"tc":0.47},{"g":7,"n":60,"k":90,"x":20,"sp":0.05,"tc":0.63},{"g":7,"n":60,"k":90,"x":30,"sp":0.09,"tc":0.8},{"g":7,"n":60,"k":90,"x":40,"sp":0.16,"tc":0.9},{"g":7,"n":60,"k":90,"x":50,"sp":0.3,"tc":0.94},{"g":7,"n":60,"k":90,"x":60,"sp":0.45,"tc":0.94},{"g":7,"n":60,"k":90,"x":70,"sp":0.61,"tc":0.91},{"g":7,"n":60,"k":90,"x":80,"sp":0.77,"tc":0.88},{"g":7,"n":60,"k":90,"x":90,"sp":0.94,"tc":0.94},{"g":7,"n":60,"k":90,"so":0.94,"hd":0.32},
{"g":7,"n":90,"k":30,"x":1,"sp":0.85,"tc":0.95},{"g":7,"n":90,"k":30,"x":10,"sp":0.04,"tc":0.76},{"g":7,"n":90,"k":30,"x":20,"sp":0.18,"tc":0.63},{"g":7,"n":90,"k":30,"x":30,"sp":0.54,"tc":0.5},{"g":7,"n":90,"k":30,"so":0.54,"hd":0.8},
{"g":7,"n":90,"k":60,"x":1,"sp":0.25,"tc":0.3},{"g":7,"n":90,"k":60,"x":10,"sp":0.04,"tc":0.53},{"g":7,"n":90,"k":60,"x":20,"sp":0.06,"tc":0.67},{"g":7,"n":90,"k":60,"x":30,"sp":0.2,"tc":0.75},{"g":7,"n":90,"k":60,"x":40,"sp":0.41,"tc":0.76},{"g":7,"n":90,"k":60,"x":50,"sp":0.65,"tc":0.78},{"g":7,"n":90,"k":60,"x":60,"sp":0.94,"tc":0.94},{"g":7,"n":90,"k":60,"so":0.93,"hd":0.26},
{"g":7,"n":90,"k":90,"x":1,"sp":0.11,"tc":0.13},{"g":7,"n":90,"k":90,"x":10,"sp":0.04,"tc":0.3},{"g":7,"n":90,"k":90,"x":20,"sp":0.08,"tc":0.47},{"g":7,"n":90,"k":90,"x":30,"sp":0.14,"tc":0.61},{"g":7,"n":90,"k":90,"x":40,"sp":0.25,"tc":0.71},{"g":7,"n":90,"k":90,"x":50,"sp":0.39,"tc":0.76},{"g":7,"n":90,"k":90,"x":60,"sp":0.57,"tc":0.8},{"g":7,"n":90,"k":90,"x":70,"sp":0.71,"tc":0.84},{"g":7,"n":90,"k":90,"x":80,"sp":0.84,"tc":0.89},{"g":7,"n":90,"k":90,"x":90,"sp":0.95,"tc":0.95},{"g":7,"n":90,"k":90,"so":0.95,"hd":0.11},
{"g":8,"n":30,"k":30,"x":1,"sp":0.9},{"g":8,"n":30,"k":30,"x":5,"sp":0.29,"tc":0.95},{"g":8,"n":30,"k":30,"x":10,"sp":0.2,"tc":0.7},{"g":8,"n":30,"k":30,"x":15,"sp":0.1,"tc":0.51},{"g":8,"n":30,"k":30,"x":20,"sp":0.06,"tc":0.34},{"g":8,"n":30,"k":30,"x":25,"sp":0.04,"tc":0.18},{"g":8,"n":30,"k":30,"x":30,"sp":0.05,"tc":0.05},{"g":8,"n":30,"k":30,"so":0.05,"hd":0.95},
{"g":8,"n":30,"k":60,"x":1,"sp":0.58,"tc":0.97},{"g":8,"n":30,"k":60,"x":5,"sp":0.18,"tc":0.58},{"g":8,"n":30,"k":60,"x":10,"sp":0.12,"tc":0.42},{"g":8,"n":30,"k":60,"x":20,"sp":0.07,"tc":0.38},{"g":8,"n":30,"k":60,"x":30,"sp":0.04,"tc":0.28},{"g":8,"n":30,"k":60,"x":35,"sp":0.035,"tc":0.24},{"g":8,"n":30,"k":60,"x":40,"sp":0.04,"tc":0.2},{"g":8,"n":30,"k":60,"x":50,"sp":0.06,"tc":0.14},{"g":8,"n":30,"k":60,"x":60,"sp":0.09,"tc":0.09},{"g":8,"n":30,"k":60,"so":0.09,"hd":0.61},
{"g":8,"n":30,"k":90,"x":1,"sp":0.52},{"g":8,"n":30,"k":90,"x":5,"sp":0.19},{"g":8,"n":30,"k":90,"x":10,"sp":0.09,"tc":0.95},{"g":8,"n":30,"k":90,"x":15,"sp":0.07,"tc":0.53},{"g":8,"n":30,"k":90,"x":20,"sp":0.05,"tc":0.46},{"g":8,"n":30,"k":90,"x":30,"sp":0.03,"tc":0.4},{"g":8,"n":30,"k":90,"x":40,"sp":0.04,"tc":0.34},{"g":8,"n":30,"k":90,"x":50,"sp":0.06,"tc":0.3},{"g":8,"n":30,"k":90,"x":60,"sp":0.09,"tc":0.26},{"g":8,"n":30,"k":90,"x":70,"sp":0.12,"tc":0.24},{"g":8,"n":30,"k":90,"x":80,"sp":0.16,"tc":0.21},{"g":8,"n":30,"k":90,"x":90,"sp":0.19,"tc":0.19},{"g":8,"n":30,"k":90,"so":0.19,"hd":0.43},
{"g":8,"n":60,"k":30,"x":1,"sp":0.69,"tc":0.96},{"g":8,"n":60,"k":30,"x":10,"sp":0.06,"tc":0.49},{"g":8,"n":60,"k":30,"x":20,"sp":0.05,"tc":0.25},{"g":8,"n":60,"k":30,"x":30,"sp":0.11,"tc":0.05},{"g":8,"n":60,"k":30,"so":0.15,"hd":0.77},
{"g":8,"n":60,"k":60,"x":1,"sp":0.49,"tc":0.96},{"g":8,"n":60,"k":60,"x":10,"sp":0.09,"tc":0.49},{"g":8,"n":60,"k":60,"x":20,"sp":0.05,"tc":0.41},{"g":8,"n":60,"k":60,"x":30,"sp":0.08,"tc":0.35},{"g":8,"n":60,"k":60,"x":40,"sp":0.13,"tc":0.3},{"g":8,"n":60,"k":60,"x":50,"sp":0.18,"tc":0.26},{"g":8,"n":60,"k":60,"x":60,"sp":0.24,"tc":0.24},{"g":8,"n":60,"k":60,"so":0.24,"hd":0.49},
{"g":8,"n":60,"k":90,"x":1,"sp":0.65,"tc":0.96},{"g":8,"n":60,"k":90,"x":10,"sp":0.08,"tc":0.51},{"g":8,"n":60,"k":90,"x":20,"sp":0.05,"tc":0.5},{"g":8,"n":60,"k":90,"x":30,"sp":0.09,"tc":0.62},{"g":8,"n":60,"k":90,"x":40,"sp":0.16,"tc":0.62},{"g":8,"n":60,"k":90,"x":50,"sp":0.24,"tc":0.63},{"g":8,"n":60,"k":90,"x":60,"sp":0.33,"tc":0.63},{"g":8,"n":60,"k":90,"x":70,"sp":0.43,"tc":0.62},{"g":8,"n":60,"k":90,"x":80,"sp":0.54,"tc":0.63},{"g":8,"n":60,"k":90,"x":90,"sp":0.65,"tc":0.65},{"g":8,"n":60,"k":90,"so":0.65,"hd":0.69},
{"g":8,"n":90,"k":30,"x":1,"sp":0.69,"tc":0.97},{"g":8,"n":90,"k":30,"x":10,"sp":0.05,"tc":0.43},{"g":8,"n":90,"k":30,"x":20,"sp":0.15,"tc":0.38},{"g":8,"n":90,"k":30,"x":30,"sp":0.36,"tc":0.34},{"g":8,"n":90,"k":30,"so":0.36,"hd":0.61},
{"g":8,"n":90,"k":60,"x":1,"sp":0.69,"tc":0.97},{"g":8,"n":90,"k":60,"x":10,"sp":0.05,"tc":0.64},{"g":8,"n":90,"k":60,"x":20,"sp":0.1,"tc":0.63},{"g":8,"n":90,"k":60,"x":30,"sp":0.24,"tc":0.69},{"g":8,"n":90,"k":60,"x":40,"sp":0.42,"tc":0.73},{"g":8,"n":90,"k":60,"x":50,"sp":0.63,"tc":0.78},{"g":8,"n":90,"k":60,"x":60,"sp":0.89,"tc":0.89},{"g":8,"n":90,"k":60,"so":0.88,"hd":0.62},
{"g":8,"n":90,"k":90,"x":1,"sp":0.47},{"g":8,"n":90,"k":90,"x":10,"sp":0.04,"tc":0.49},{"g":8,"n":90,"k":90,"x":20,"sp":0.1,"tc":0.55},{"g":8,"n":90,"k":90,"x":30,"sp":0.2,"tc":0.6},{"g":8,"n":90,"k":90,"x":40,"sp":0.34,"tc":0.67},{"g":8,"n":90,"k":90,"x":50,"sp":0.49,"tc":0.73},{"g":8,"n":90,"k":90,"x":60,"sp":0.61,"tc":0.79},{"g":8,"n":90,"k":90,"x":70,"sp":0.73,"tc":0.85},{"g":8,"n":90,"k":90,"x":80,"sp":0.84,"tc":0.9},{"g":8,"n":90,"k":90,"x":90,"sp":0.95,"tc":0.95},{"g":8,"n":90,"k":90,"so":0.95,"hd":0.4}
]},
"transform":[{"fold":["sp","tc","so","hd"],"as":["s","y"]},{"filter":"isValid(datum.y)"}],
"spacing":6,
"resolve":{"legend":{"color":"independent","strokeDash":"independent"}},
"vconcat":[
{"spacing":2,"resolve":{"legend":{"color":"independent","strokeDash":"independent"}},"hconcat":[
{"title":"μ(ρ) = ρ, β = 0.001","spacing":1,"resolve":{"legend":{"color":"independent","strokeDash":"independent"}},"hconcat":[
{"transform":[{"filter":"datum.g==1&&datum.k==30"}],"spacing":{"row":3},"facet":{"row":{"field":"n","type":"ordinal","title":"Loss (Cost - Benefit)"},"column":{"field":"k","type":"ordinal","title":null}},"spec":{"width":89,"height":83,"encoding":{"y":{"field":"y","type":"quantitative","scale":{"domain":[0,1]},"axis":null},"color":{"field":"s","type":"nominal","scale":{"domain":["sp","tc","so","hd"],"range":["#c586d9","#ff8a8a","#7cc47c","#9fd69f"]},"legend":null},"strokeDash":{"field":"s","type":"nominal","scale":{"domain":["sp","tc","so","hd"],"range":[[1,0],[1,0],[1,0],[2,1.5]]},"legend":null}},"layer":[{"transform":[{"filter":"datum.s=='sp'||datum.s=='tc'"}],"mark":{"type":"line","strokeWidth":1},"encoding":{"x":{"field":"x","type":"quantitative","scale":{"domain":[0,30],"nice":false},"axis":{"values":[0,10,20,30],"title":null}}}},{"transform":[{"filter":"datum.s=='so'||datum.s=='hd'"}],"mark":{"type":"rule","strokeWidth":1},"encoding":{}},{"transform":[{"filter":"datum.s=='sp'||datum.s=='tc'"},{"joinaggregate":[{"op":"min","field":"y","as":"m"}],"groupby":["s","n"]},{"filter":"datum.y==datum.m"}],"mark":{"type":"circle","size":9,"opacity":1},"encoding":{"x":{"field":"x","type":"quantitative","scale":{"domain":[0,30],"nice":false},"axis":{"values":[0,10,20,30],"title":null}},"color":{"condition":{"test":"datum.s=='sp'","value":"#8a2aa6"},"value":"#e8201c"}}}]}},
{"transform":[{"filter":"datum.g==1&&datum.k==60"}],"spacing":{"row":3},"facet":{"row":{"field":"n","type":"ordinal","title":null,"header":{"labels":false}},"column":{"field":"k","type":"ordinal","title":null}},"spec":{"width":89,"height":83,"encoding":{"y":{"field":"y","type":"quantitative","scale":{"domain":[0,1]},"axis":null},"color":{"field":"s","type":"nominal","scale":{"domain":["sp","tc","so","hd"],"range":["#c586d9","#ff8a8a","#7cc47c","#9fd69f"]},"legend":null},"strokeDash":{"field":"s","type":"nominal","scale":{"domain":["sp","tc","so","hd"],"range":[[1,0],[1,0],[1,0],[2,1.5]]},"legend":null}},"layer":[{"transform":[{"filter":"datum.s=='sp'||datum.s=='tc'"}],"mark":{"type":"line","strokeWidth":1},"encoding":{"x":{"field":"x","type":"quantitative","scale":{"domain":[0,60],"nice":false},"axis":{"values":[0,20,40,60],"title":"k̂ (max_features)"}}}},{"transform":[{"filter":"datum.s=='so'||datum.s=='hd'"}],"mark":{"type":"rule","strokeWidth":1},"encoding":{}},{"transform":[{"filter":"datum.s=='sp'||datum.s=='tc'"},{"joinaggregate":[{"op":"min","field":"y","as":"m"}],"groupby":["s","n"]},{"filter":"datum.y==datum.m"}],"mark":{"type":"circle","size":9,"opacity":1},"encoding":{"x":{"field":"x","type":"quantitative","scale":{"domain":[0,60],"nice":false},"axis":{"values":[0,20,40,60],"title":"k̂ (max_features)"}},"color":{"condition":{"test":"datum.s=='sp'","value":"#8a2aa6"},"value":"#e8201c"}}}]}},
{"spacing":3,"resolve":{"scale":{"x":"independent"},"legend":{"color":"independent","strokeDash":"independent"}},"vconcat":[
{"transform":[{"filter":"datum.g==1&&datum.k==90&&datum.n<90"}],"spacing":{"row":3},"facet":{"row":{"field":"n","type":"ordinal","title":null,"header":{"labels":false}},"column":{"field":"k","type":"ordinal","title":null}},"spec":{"width":89,"height":83,"encoding":{"y":{"field":"y","type":"quantitative","scale":{"domain":[0,1]},"axis":null},"color":{"field":"s","type":"nominal","scale":{"domain":["sp","tc","so","hd"],"range":["#c586d9","#ff8a8a","#7cc47c","#9fd69f"]},"legend":null},"strokeDash":{"field":"s","type":"nominal","scale":{"domain":["sp","tc","so","hd"],"range":[[1,0],[1,0],[1,0],[2,1.5]]},"legend":null}},"layer":[{"transform":[{"filter":"datum.s=='sp'||datum.s=='tc'"}],"mark":{"type":"line","strokeWidth":1},"encoding":{"x":{"field":"x","type":"quantitative","scale":{"domain":[0,90],"nice":false},"axis":null}}},{"transform":[{"filter":"datum.s=='so'||datum.s=='hd'"}],"mark":{"type":"rule","strokeWidth":1},"encoding":{}},{"transform":[{"filter":"datum.s=='sp'||datum.s=='tc'"},{"joinaggregate":[{"op":"min","field":"y","as":"m"}],"groupby":["s","n"]},{"filter":"datum.y==datum.m"}],"mark":{"type":"circle","size":9,"opacity":1},"encoding":{"x":{"field":"x","type":"quantitative","scale":{"domain":[0,90],"nice":false},"axis":null},"color":{"condition":{"test":"datum.s=='sp'","value":"#8a2aa6"},"value":"#e8201c"}}}]}},
{"transform":[{"filter":"datum.g==1&&datum.k==90&&datum.n==90"}],"width":89,"height":83,"encoding":{"y":{"field":"y","type":"quantitative","scale":{"domain":[0,1]},"axis":null},"color":{"field":"s","type":"nominal","scale":{"domain":["sp","tc","so","hd"],"range":["#c586d9","#ff8a8a","#7cc47c","#9fd69f"]},"legend":{"title":null,"orient":"bottom-right","labelExpr":"datum.label=='sp'?'Sparse Labels':datum.label=='tc'?'Top-Class Labels':datum.label=='so'?'Soft Labels':'Hard Labels'"}},"strokeDash":{"field":"s","type":"nominal","scale":{"domain":["sp","tc","so","hd"],"range":[[1,0],[1,0],[1,0],[2,1.5]]},"legend":{"title":null,"orient":"bottom-right","labelExpr":"datum.label=='sp'?'Sparse Labels':datum.label=='tc'?'Top-Class Labels':datum.label=='so'?'Soft Labels':'Hard Labels'"}}},"layer":[{"transform":[{"filter":"datum.s=='sp'||datum.s=='tc'"}],"mark":{"type":"line","strokeWidth":1},"encoding":{"x":{"field":"x","type":"quantitative","scale":{"domain":[0,90],"nice":false},"axis":{"values":[0,50],"title":null}}}},{"transform":[{"filter":"datum.s=='so'||datum.s=='hd'"}],"mark":{"type":"rule","strokeWidth":1},"encoding":{}},{"transform":[{"filter":"datum.s=='sp'||datum.s=='tc'"},{"joinaggregate":[{"op":"min","field":"y","as":"m"}],"groupby":["s","n"]},{"filter":"datum.y==datum.m"}],"mark":{"type":"circle","size":9,"opacity":1},"encoding":{"x":{"field":"x","type":"quantitative","scale":{"domain":[0,90],"nice":false},"axis":{"values":[0,50],"title":null}},"color":{"condition":{"test":"datum.s=='sp'","value":"#8a2aa6"},"value":"#e8201c"}}}]}
]}
]},
{"title":"μ(ρ) = ρ², β = 0.001","spacing":1,"resolve":{"legend":{"color":"independent","strokeDash":"independent"}},"hconcat":[
{"transform":[{"filter":"datum.g==2&&datum.k==30"}],"spacing":{"row":3},"facet":{"row":{"field":"n","type":"ordinal","title":"Loss (Cost - Benefit)"},"column":{"field":"k","type":"ordinal","title":null}},"spec":{"width":89,"height":83,"encoding":{"y":{"field":"y","type":"quantitative","scale":{"domain":[0,1]},"axis":null},"color":{"field":"s","type":"nominal","scale":{"domain":["sp","tc","so","hd"],"range":["#c586d9","#ff8a8a","#7cc47c","#9fd69f"]},"legend":null},"strokeDash":{"field":"s","type":"nominal","scale":{"domain":["sp","tc","so","hd"],"range":[[1,0],[1,0],[1,0],[2,1.5]]},"legend":null}},"layer":[{"transform":[{"filter":"datum.s=='sp'||datum.s=='tc'"}],"mark":{"type":"line","strokeWidth":1},"encoding":{"x":{"field":"x","type":"quantitative","scale":{"domain":[0,30],"nice":false},"axis":{"values":[0,10,20,30],"title":null}}}},{"transform":[{"filter":"datum.s=='so'||datum.s=='hd'"}],"mark":{"type":"rule","strokeWidth":1},"encoding":{}},{"transform":[{"filter":"datum.s=='sp'||datum.s=='tc'"},{"joinaggregate":[{"op":"min","field":"y","as":"m"}],"groupby":["s","n"]},{"filter":"datum.y==datum.m"}],"mark":{"type":"circle","size":9,"opacity":1},"encoding":{"x":{"field":"x","type":"quantitative","scale":{"domain":[0,30],"nice":false},"axis":{"values":[0,10,20,30],"title":null}},"color":{"condition":{"test":"datum.s=='sp'","value":"#8a2aa6"},"value":"#e8201c"}}}]}},
{"transform":[{"filter":"datum.g==2&&datum.k==60"}],"spacing":{"row":3},"facet":{"row":{"field":"n","type":"ordinal","title":null,"header":{"labels":false}},"column":{"field":"k","type":"ordinal","title":null}},"spec":{"width":89,"height":83,"encoding":{"y":{"field":"y","type":"quantitative","scale":{"domain":[0,1]},"axis":null},"color":{"field":"s","type":"nominal","scale":{"domain":["sp","tc","so","hd"],"range":["#c586d9","#ff8a8a","#7cc47c","#9fd69f"]},"legend":null},"strokeDash":{"field":"s","type":"nominal","scale":{"domain":["sp","tc","so","hd"],"range":[[1,0],[1,0],[1,0],[2,1.5]]},"legend":null}},"layer":[{"transform":[{"filter":"datum.s=='sp'||datum.s=='tc'"}],"mark":{"type":"line","strokeWidth":1},"encoding":{"x":{"field":"x","type":"quantitative","scale":{"domain":[0,60],"nice":false},"axis":{"values":[0,20,40,60],"title":"k̂ (max_features)"}}}},{"transform":[{"filter":"datum.s=='so'||datum.s=='hd'"}],"mark":{"type":"rule","strokeWidth":1},"encoding":{}},{"transform":[{"filter":"datum.s=='sp'||datum.s=='tc'"},{"joinaggregate":[{"op":"min","field":"y","as":"m"}],"groupby":["s","n"]},{"filter":"datum.y==datum.m"}],"mark":{"type":"circle","size":9,"opacity":1},"encoding":{"x":{"field":"x","type":"quantitative","scale":{"domain":[0,60],"nice":false},"axis":{"values":[0,20,40,60],"title":"k̂ (max_features)"}},"color":{"condition":{"test":"datum.s=='sp'","value":"#8a2aa6"},"value":"#e8201c"}}}]}},
{"spacing":3,"resolve":{"scale":{"x":"independent"},"legend":{"color":"independent","strokeDash":"independent"}},"vconcat":[
{"transform":[{"filter":"datum.g==2&&datum.k==90&&datum.n<90"}],"spacing":{"row":3},"facet":{"row":{"field":"n","type":"ordinal","title":null,"header":{"labels":false}},"column":{"field":"k","type":"ordinal","title":null}},"spec":{"width":89,"height":83,"encoding":{"y":{"field":"y","type":"quantitative","scale":{"domain":[0,1]},"axis":null},"color":{"field":"s","type":"nominal","scale":{"domain":["sp","tc","so","hd"],"range":["#c586d9","#ff8a8a","#7cc47c","#9fd69f"]},"legend":null},"strokeDash":{"field":"s","type":"nominal","scale":{"domain":["sp","tc","so","hd"],"range":[[1,0],[1,0],[1,0],[2,1.5]]},"legend":null}},"layer":[{"transform":[{"filter":"datum.s=='sp'||datum.s=='tc'"}],"mark":{"type":"line","strokeWidth":1},"encoding":{"x":{"field":"x","type":"quantitative","scale":{"domain":[0,90],"nice":false},"axis":null}}},{"transform":[{"filter":"datum.s=='so'||datum.s=='hd'"}],"mark":{"type":"rule","strokeWidth":1},"encoding":{}},{"transform":[{"filter":"datum.s=='sp'||datum.s=='tc'"},{"joinaggregate":[{"op":"min","field":"y","as":"m"}],"groupby":["s","n"]},{"filter":"datum.y==datum.m"}],"mark":{"type":"circle","size":9,"opacity":1},"encoding":{"x":{"field":"x","type":"quantitative","scale":{"domain":[0,90],"nice":false},"axis":null},"color":{"condition":{"test":"datum.s=='sp'","value":"#8a2aa6"},"value":"#e8201c"}}}]}},
{"transform":[{"filter":"datum.g==2&&datum.k==90&&datum.n==90"}],"width":89,"height":83,"encoding":{"y":{"field":"y","type":"quantitative","scale":{"domain":[0,1]},"axis":null},"color":{"field":"s","type":"nominal","scale":{"domain":["sp","tc","so","hd"],"range":["#c586d9","#ff8a8a","#7cc47c","#9fd69f"]},"legend":{"title":null,"orient":"bottom-right","labelExpr":"datum.label=='sp'?'Sparse Labels':datum.label=='tc'?'Top-Class Labels':datum.label=='so'?'Soft Labels':'Hard Labels'"}},"strokeDash":{"field":"s","type":"nominal","scale":{"domain":["sp","tc","so","hd"],"range":[[1,0],[1,0],[1,0],[2,1.5]]},"legend":{"title":null,"orient":"bottom-right","labelExpr":"datum.label=='sp'?'Sparse Labels':datum.label=='tc'?'Top-Class Labels':datum.label=='so'?'Soft Labels':'Hard Labels'"}}},"layer":[{"transform":[{"filter":"datum.s=='sp'||datum.s=='tc'"}],"mark":{"type":"line","strokeWidth":1},"encoding":{"x":{"field":"x","type":"quantitative","scale":{"domain":[0,90],"nice":false},"axis":{"values":[0,50],"title":null}}}},{"transform":[{"filter":"datum.s=='so'||datum.s=='hd'"}],"mark":{"type":"rule","strokeWidth":1},"encoding":{}},{"transform":[{"filter":"datum.s=='sp'||datum.s=='tc'"},{"joinaggregate":[{"op":"min","field":"y","as":"m"}],"groupby":["s","n"]},{"filter":"datum.y==datum.m"}],"mark":{"type":"circle","size":9,"opacity":1},"encoding":{"x":{"field":"x","type":"quantitative","scale":{"domain":[0,90],"nice":false},"axis":{"values":[0,50],"title":null}},"color":{"condition":{"test":"datum.s=='sp'","value":"#8a2aa6"},"value":"#e8201c"}}}]}
]}
]},
{"title":"μ(ρ) = σ(ρ), β = 0.0001","spacing":1,"resolve":{"legend":{"color":"independent","strokeDash":"independent"}},"hconcat":[
{"transform":[{"filter":"datum.g==3&&datum.k==30"}],"spacing":{"row":3},"facet":{"row":{"field":"n","type":"ordinal","title":"Loss (Cost - Benefit)"},"column":{"field":"k","type":"ordinal","title":null}},"spec":{"width":89,"height":83,"encoding":{"y":{"field":"y","type":"quantitative","scale":{"domain":[0,1]},"axis":null},"color":{"field":"s","type":"nominal","scale":{"domain":["sp","tc","so","hd"],"range":["#c586d9","#ff8a8a","#7cc47c","#9fd69f"]},"legend":null},"strokeDash":{"field":"s","type":"nominal","scale":{"domain":["sp","tc","so","hd"],"range":[[1,0],[1,0],[1,0],[2,1.5]]},"legend":null}},"layer":[{"transform":[{"filter":"datum.s=='sp'||datum.s=='tc'"}],"mark":{"type":"line","strokeWidth":1},"encoding":{"x":{"field":"x","type":"quantitative","scale":{"domain":[0,30],"nice":false},"axis":{"values":[0,10,20,30],"title":null}}}},{"transform":[{"filter":"datum.s=='so'||datum.s=='hd'"}],"mark":{"type":"rule","strokeWidth":1},"encoding":{}},{"transform":[{"filter":"datum.s=='sp'||datum.s=='tc'"},{"joinaggregate":[{"op":"min","field":"y","as":"m"}],"groupby":["s","n"]},{"filter":"datum.y==datum.m"}],"mark":{"type":"circle","size":9,"opacity":1},"encoding":{"x":{"field":"x","type":"quantitative","scale":{"domain":[0,30],"nice":false},"axis":{"values":[0,10,20,30],"title":null}},"color":{"condition":{"test":"datum.s=='sp'","value":"#8a2aa6"},"value":"#e8201c"}}}]}},
{"transform":[{"filter":"datum.g==3&&datum.k==60"}],"spacing":{"row":3},"facet":{"row":{"field":"n","type":"ordinal","title":null,"header":{"labels":false}},"column":{"field":"k","type":"ordinal","title":null}},"spec":{"width":89,"height":83,"encoding":{"y":{"field":"y","type":"quantitative","scale":{"domain":[0,1]},"axis":null},"color":{"field":"s","type":"nominal","scale":{"domain":["sp","tc","so","hd"],"range":["#c586d9","#ff8a8a","#7cc47c","#9fd69f"]},"legend":null},"strokeDash":{"field":"s","type":"nominal","scale":{"domain":["sp","tc","so","hd"],"range":[[1,0],[1,0],[1,0],[2,1.5]]},"legend":null}},"layer":[{"transform":[{"filter":"datum.s=='sp'||datum.s=='tc'"}],"mark":{"type":"line","strokeWidth":1},"encoding":{"x":{"field":"x","type":"quantitative","scale":{"domain":[0,60],"nice":false},"axis":{"values":[0,20,40,60],"title":"k̂ (max_features)"}}}},{"transform":[{"filter":"datum.s=='so'||datum.s=='hd'"}],"mark":{"type":"rule","strokeWidth":1},"encoding":{}},{"transform":[{"filter":"datum.s=='sp'||datum.s=='tc'"},{"joinaggregate":[{"op":"min","field":"y","as":"m"}],"groupby":["s","n"]},{"filter":"datum.y==datum.m"}],"mark":{"type":"circle","size":9,"opacity":1},"encoding":{"x":{"field":"x","type":"quantitative","scale":{"domain":[0,60],"nice":false},"axis":{"values":[0,20,40,60],"title":"k̂ (max_features)"}},"color":{"condition":{"test":"datum.s=='sp'","value":"#8a2aa6"},"value":"#e8201c"}}}]}},
{"spacing":3,"resolve":{"scale":{"x":"independent"},"legend":{"color":"independent","strokeDash":"independent"}},"vconcat":[
{"transform":[{"filter":"datum.g==3&&datum.k==90&&datum.n<90"}],"spacing":{"row":3},"facet":{"row":{"field":"n","type":"ordinal","title":null,"header":{"labels":false}},"column":{"field":"k","type":"ordinal","title":null}},"spec":{"width":89,"height":83,"encoding":{"y":{"field":"y","type":"quantitative","scale":{"domain":[0,1]},"axis":null},"color":{"field":"s","type":"nominal","scale":{"domain":["sp","tc","so","hd"],"range":["#c586d9","#ff8a8a","#7cc47c","#9fd69f"]},"legend":null},"strokeDash":{"field":"s","type":"nominal","scale":{"domain":["sp","tc","so","hd"],"range":[[1,0],[1,0],[1,0],[2,1.5]]},"legend":null}},"layer":[{"transform":[{"filter":"datum.s=='sp'||datum.s=='tc'"}],"mark":{"type":"line","strokeWidth":1},"encoding":{"x":{"field":"x","type":"quantitative","scale":{"domain":[0,90],"nice":false},"axis":null}}},{"transform":[{"filter":"datum.s=='so'||datum.s=='hd'"}],"mark":{"type":"rule","strokeWidth":1},"encoding":{}},{"transform":[{"filter":"datum.s=='sp'||datum.s=='tc'"},{"joinaggregate":[{"op":"min","field":"y","as":"m"}],"groupby":["s","n"]},{"filter":"datum.y==datum.m"}],"mark":{"type":"circle","size":9,"opacity":1},"encoding":{"x":{"field":"x","type":"quantitative","scale":{"domain":[0,90],"nice":false},"axis":null},"color":{"condition":{"test":"datum.s=='sp'","value":"#8a2aa6"},"value":"#e8201c"}}}]}},
{"transform":[{"filter":"datum.g==3&&datum.k==90&&datum.n==90"}],"width":89,"height":83,"encoding":{"y":{"field":"y","type":"quantitative","scale":{"domain":[0,1]},"axis":null},"color":{"field":"s","type":"nominal","scale":{"domain":["sp","tc","so","hd"],"range":["#c586d9","#ff8a8a","#7cc47c","#9fd69f"]},"legend":{"title":null,"orient":"bottom-right","labelExpr":"datum.label=='sp'?'Sparse Labels':datum.label=='tc'?'Top-Class Labels':datum.label=='so'?'Soft Labels':'Hard Labels'"}},"strokeDash":{"field":"s","type":"nominal","scale":{"domain":["sp","tc","so","hd"],"range":[[1,0],[1,0],[1,0],[2,1.5]]},"legend":{"title":null,"orient":"bottom-right","labelExpr":"datum.label=='sp'?'Sparse Labels':datum.label=='tc'?'Top-Class Labels':datum.label=='so'?'Soft Labels':'Hard Labels'"}}},"layer":[{"transform":[{"filter":"datum.s=='sp'||datum.s=='tc'"}],"mark":{"type":"line","strokeWidth":1},"encoding":{"x":{"field":"x","type":"quantitative","scale":{"domain":[0,90],"nice":false},"axis":{"values":[0,50],"title":null}}}},{"transform":[{"filter":"datum.s=='so'||datum.s=='hd'"}],"mark":{"type":"rule","strokeWidth":1},"encoding":{}},{"transform":[{"filter":"datum.s=='sp'||datum.s=='tc'"},{"joinaggregate":[{"op":"min","field":"y","as":"m"}],"groupby":["s","n"]},{"filter":"datum.y==datum.m"}],"mark":{"type":"circle","size":9,"opacity":1},"encoding":{"x":{"field":"x","type":"quantitative","scale":{"domain":[0,90],"nice":false},"axis":{"values":[0,50],"title":null}},"color":{"condition":{"test":"datum.s=='sp'","value":"#8a2aa6"},"value":"#e8201c"}}}]}
]}
]},
{"title":"μ(ρ) = σ⁻¹(ρ), β = 0.005","spacing":1,"resolve":{"legend":{"color":"independent","strokeDash":"independent"}},"hconcat":[
{"transform":[{"filter":"datum.g==4&&datum.k==30"}],"spacing":{"row":3},"facet":{"row":{"field":"n","type":"ordinal","title":"Loss (Cost - Benefit)"},"column":{"field":"k","type":"ordinal","title":null}},"spec":{"width":89,"height":83,"encoding":{"y":{"field":"y","type":"quantitative","scale":{"domain":[0,1]},"axis":null},"color":{"field":"s","type":"nominal","scale":{"domain":["sp","tc","so","hd"],"range":["#c586d9","#ff8a8a","#7cc47c","#9fd69f"]},"legend":null},"strokeDash":{"field":"s","type":"nominal","scale":{"domain":["sp","tc","so","hd"],"range":[[1,0],[1,0],[1,0],[2,1.5]]},"legend":null}},"layer":[{"transform":[{"filter":"datum.s=='sp'||datum.s=='tc'"}],"mark":{"type":"line","strokeWidth":1},"encoding":{"x":{"field":"x","type":"quantitative","scale":{"domain":[0,30],"nice":false},"axis":{"values":[0,10,20,30],"title":null}}}},{"transform":[{"filter":"datum.s=='so'||datum.s=='hd'"}],"mark":{"type":"rule","strokeWidth":1},"encoding":{}},{"transform":[{"filter":"datum.s=='sp'||datum.s=='tc'"},{"joinaggregate":[{"op":"min","field":"y","as":"m"}],"groupby":["s","n"]},{"filter":"datum.y==datum.m"}],"mark":{"type":"circle","size":9,"opacity":1},"encoding":{"x":{"field":"x","type":"quantitative","scale":{"domain":[0,30],"nice":false},"axis":{"values":[0,10,20,30],"title":null}},"color":{"condition":{"test":"datum.s=='sp'","value":"#8a2aa6"},"value":"#e8201c"}}}]}},
{"transform":[{"filter":"datum.g==4&&datum.k==60"}],"spacing":{"row":3},"facet":{"row":{"field":"n","type":"ordinal","title":null,"header":{"labels":false}},"column":{"field":"k","type":"ordinal","title":null}},"spec":{"width":89,"height":83,"encoding":{"y":{"field":"y","type":"quantitative","scale":{"domain":[0,1]},"axis":null},"color":{"field":"s","type":"nominal","scale":{"domain":["sp","tc","so","hd"],"range":["#c586d9","#ff8a8a","#7cc47c","#9fd69f"]},"legend":null},"strokeDash":{"field":"s","type":"nominal","scale":{"domain":["sp","tc","so","hd"],"range":[[1,0],[1,0],[1,0],[2,1.5]]},"legend":null}},"layer":[{"transform":[{"filter":"datum.s=='sp'||datum.s=='tc'"}],"mark":{"type":"line","strokeWidth":1},"encoding":{"x":{"field":"x","type":"quantitative","scale":{"domain":[0,60],"nice":false},"axis":{"values":[0,20,40,60],"title":"k̂ (max_features)"}}}},{"transform":[{"filter":"datum.s=='so'||datum.s=='hd'"}],"mark":{"type":"rule","strokeWidth":1},"encoding":{}},{"transform":[{"filter":"datum.s=='sp'||datum.s=='tc'"},{"joinaggregate":[{"op":"min","field":"y","as":"m"}],"groupby":["s","n"]},{"filter":"datum.y==datum.m"}],"mark":{"type":"circle","size":9,"opacity":1},"encoding":{"x":{"field":"x","type":"quantitative","scale":{"domain":[0,60],"nice":false},"axis":{"values":[0,20,40,60],"title":"k̂ (max_features)"}},"color":{"condition":{"test":"datum.s=='sp'","value":"#8a2aa6"},"value":"#e8201c"}}}]}},
{"spacing":3,"resolve":{"scale":{"x":"independent"},"legend":{"color":"independent","strokeDash":"independent"}},"vconcat":[
{"transform":[{"filter":"datum.g==4&&datum.k==90&&datum.n<90"}],"spacing":{"row":3},"facet":{"row":{"field":"n","type":"ordinal","title":null,"header":{"labels":false}},"column":{"field":"k","type":"ordinal","title":null}},"spec":{"width":89,"height":83,"encoding":{"y":{"field":"y","type":"quantitative","scale":{"domain":[0,1]},"axis":null},"color":{"field":"s","type":"nominal","scale":{"domain":["sp","tc","so","hd"],"range":["#c586d9","#ff8a8a","#7cc47c","#9fd69f"]},"legend":null},"strokeDash":{"field":"s","type":"nominal","scale":{"domain":["sp","tc","so","hd"],"range":[[1,0],[1,0],[1,0],[2,1.5]]},"legend":null}},"layer":[{"transform":[{"filter":"datum.s=='sp'||datum.s=='tc'"}],"mark":{"type":"line","strokeWidth":1},"encoding":{"x":{"field":"x","type":"quantitative","scale":{"domain":[0,90],"nice":false},"axis":null}}},{"transform":[{"filter":"datum.s=='so'||datum.s=='hd'"}],"mark":{"type":"rule","strokeWidth":1},"encoding":{}},{"transform":[{"filter":"datum.s=='sp'||datum.s=='tc'"},{"joinaggregate":[{"op":"min","field":"y","as":"m"}],"groupby":["s","n"]},{"filter":"datum.y==datum.m"}],"mark":{"type":"circle","size":9,"opacity":1},"encoding":{"x":{"field":"x","type":"quantitative","scale":{"domain":[0,90],"nice":false},"axis":null},"color":{"condition":{"test":"datum.s=='sp'","value":"#8a2aa6"},"value":"#e8201c"}}}]}},
{"transform":[{"filter":"datum.g==4&&datum.k==90&&datum.n==90"}],"width":89,"height":83,"encoding":{"y":{"field":"y","type":"quantitative","scale":{"domain":[0,1]},"axis":null},"color":{"field":"s","type":"nominal","scale":{"domain":["sp","tc","so","hd"],"range":["#c586d9","#ff8a8a","#7cc47c","#9fd69f"]},"legend":{"title":null,"orient":"bottom-right","labelExpr":"datum.label=='sp'?'Sparse Labels':datum.label=='tc'?'Top-Class Labels':datum.label=='so'?'Soft Labels':'Hard Labels'"}},"strokeDash":{"field":"s","type":"nominal","scale":{"domain":["sp","tc","so","hd"],"range":[[1,0],[1,0],[1,0],[2,1.5]]},"legend":{"title":null,"orient":"bottom-right","labelExpr":"datum.label=='sp'?'Sparse Labels':datum.label=='tc'?'Top-Class Labels':datum.label=='so'?'Soft Labels':'Hard Labels'"}}},"layer":[{"transform":[{"filter":"datum.s=='sp'||datum.s=='tc'"}],"mark":{"type":"line","strokeWidth":1},"encoding":{"x":{"field":"x","type":"quantitative","scale":{"domain":[0,90],"nice":false},"axis":{"values":[0,50],"title":null}}}},{"transform":[{"filter":"datum.s=='so'||datum.s=='hd'"}],"mark":{"type":"rule","strokeWidth":1},"encoding":{}},{"transform":[{"filter":"datum.s=='sp'||datum.s=='tc'"},{"joinaggregate":[{"op":"min","field":"y","as":"m"}],"groupby":["s","n"]},{"filter":"datum.y==datum.m"}],"mark":{"type":"circle","size":9,"opacity":1},"encoding":{"x":{"field":"x","type":"quantitative","scale":{"domain":[0,90],"nice":false},"axis":{"values":[0,50],"title":null}},"color":{"condition":{"test":"datum.s=='sp'","value":"#8a2aa6"},"value":"#e8201c"}}}]}
]}
]}
]},
{"spacing":2,"resolve":{"legend":{"color":"independent","strokeDash":"independent"}},"hconcat":[
{"title":"μ(ρ) = ρ, β = 0.0001","spacing":1,"resolve":{"legend":{"color":"independent","strokeDash":"independent"}},"hconcat":[
{"transform":[{"filter":"datum.g==5&&datum.k==30"}],"spacing":{"row":3},"facet":{"row":{"field":"n","type":"ordinal","title":"Loss (Cost - Benefit)"},"column":{"field":"k","type":"ordinal","title":null}},"spec":{"width":89,"height":83,"encoding":{"y":{"field":"y","type":"quantitative","scale":{"domain":[0,1]},"axis":null},"color":{"field":"s","type":"nominal","scale":{"domain":["sp","tc","so","hd"],"range":["#c586d9","#ff8a8a","#7cc47c","#9fd69f"]},"legend":null},"strokeDash":{"field":"s","type":"nominal","scale":{"domain":["sp","tc","so","hd"],"range":[[1,0],[1,0],[1,0],[2,1.5]]},"legend":null}},"layer":[{"transform":[{"filter":"datum.s=='sp'||datum.s=='tc'"}],"mark":{"type":"line","strokeWidth":1},"encoding":{"x":{"field":"x","type":"quantitative","scale":{"domain":[0,30],"nice":false},"axis":{"values":[0,10,20,30],"title":null}}}},{"transform":[{"filter":"datum.s=='so'||datum.s=='hd'"}],"mark":{"type":"rule","strokeWidth":1},"encoding":{}},{"transform":[{"filter":"datum.s=='sp'||datum.s=='tc'"},{"joinaggregate":[{"op":"min","field":"y","as":"m"}],"groupby":["s","n"]},{"filter":"datum.y==datum.m"}],"mark":{"type":"circle","size":9,"opacity":1},"encoding":{"x":{"field":"x","type":"quantitative","scale":{"domain":[0,30],"nice":false},"axis":{"values":[0,10,20,30],"title":null}},"color":{"condition":{"test":"datum.s=='sp'","value":"#8a2aa6"},"value":"#e8201c"}}}]}},
{"transform":[{"filter":"datum.g==5&&datum.k==60"}],"spacing":{"row":3},"facet":{"row":{"field":"n","type":"ordinal","title":null,"header":{"labels":false}},"column":{"field":"k","type":"ordinal","title":null}},"spec":{"width":89,"height":83,"encoding":{"y":{"field":"y","type":"quantitative","scale":{"domain":[0,1]},"axis":null},"color":{"field":"s","type":"nominal","scale":{"domain":["sp","tc","so","hd"],"range":["#c586d9","#ff8a8a","#7cc47c","#9fd69f"]},"legend":null},"strokeDash":{"field":"s","type":"nominal","scale":{"domain":["sp","tc","so","hd"],"range":[[1,0],[1,0],[1,0],[2,1.5]]},"legend":null}},"layer":[{"transform":[{"filter":"datum.s=='sp'||datum.s=='tc'"}],"mark":{"type":"line","strokeWidth":1},"encoding":{"x":{"field":"x","type":"quantitative","scale":{"domain":[0,60],"nice":false},"axis":{"values":[0,20,40,60],"title":"k̂ (max_features)"}}}},{"transform":[{"filter":"datum.s=='so'||datum.s=='hd'"}],"mark":{"type":"rule","strokeWidth":1},"encoding":{}},{"transform":[{"filter":"datum.s=='sp'||datum.s=='tc'"},{"joinaggregate":[{"op":"min","field":"y","as":"m"}],"groupby":["s","n"]},{"filter":"datum.y==datum.m"}],"mark":{"type":"circle","size":9,"opacity":1},"encoding":{"x":{"field":"x","type":"quantitative","scale":{"domain":[0,60],"nice":false},"axis":{"values":[0,20,40,60],"title":"k̂ (max_features)"}},"color":{"condition":{"test":"datum.s=='sp'","value":"#8a2aa6"},"value":"#e8201c"}}}]}},
{"spacing":3,"resolve":{"scale":{"x":"independent"},"legend":{"color":"independent","strokeDash":"independent"}},"vconcat":[
{"transform":[{"filter":"datum.g==5&&datum.k==90&&datum.n<90"}],"spacing":{"row":3},"facet":{"row":{"field":"n","type":"ordinal","title":null,"header":{"labels":false}},"column":{"field":"k","type":"ordinal","title":null}},"spec":{"width":89,"height":83,"encoding":{"y":{"field":"y","type":"quantitative","scale":{"domain":[0,1]},"axis":null},"color":{"field":"s","type":"nominal","scale":{"domain":["sp","tc","so","hd"],"range":["#c586d9","#ff8a8a","#7cc47c","#9fd69f"]},"legend":null},"strokeDash":{"field":"s","type":"nominal","scale":{"domain":["sp","tc","so","hd"],"range":[[1,0],[1,0],[1,0],[2,1.5]]},"legend":null}},"layer":[{"transform":[{"filter":"datum.s=='sp'||datum.s=='tc'"}],"mark":{"type":"line","strokeWidth":1},"encoding":{"x":{"field":"x","type":"quantitative","scale":{"domain":[0,90],"nice":false},"axis":null}}},{"transform":[{"filter":"datum.s=='so'||datum.s=='hd'"}],"mark":{"type":"rule","strokeWidth":1},"encoding":{}},{"transform":[{"filter":"datum.s=='sp'||datum.s=='tc'"},{"joinaggregate":[{"op":"min","field":"y","as":"m"}],"groupby":["s","n"]},{"filter":"datum.y==datum.m"}],"mark":{"type":"circle","size":9,"opacity":1},"encoding":{"x":{"field":"x","type":"quantitative","scale":{"domain":[0,90],"nice":false},"axis":null},"color":{"condition":{"test":"datum.s=='sp'","value":"#8a2aa6"},"value":"#e8201c"}}}]}},
{"transform":[{"filter":"datum.g==5&&datum.k==90&&datum.n==90"}],"width":89,"height":83,"encoding":{"y":{"field":"y","type":"quantitative","scale":{"domain":[0,1]},"axis":null},"color":{"field":"s","type":"nominal","scale":{"domain":["sp","tc","so","hd"],"range":["#c586d9","#ff8a8a","#7cc47c","#9fd69f"]},"legend":{"title":null,"orient":"bottom-right","labelExpr":"datum.label=='sp'?'Sparse Labels':datum.label=='tc'?'Top-Class Labels':datum.label=='so'?'Soft Labels':'Hard Labels'"}},"strokeDash":{"field":"s","type":"nominal","scale":{"domain":["sp","tc","so","hd"],"range":[[1,0],[1,0],[1,0],[2,1.5]]},"legend":{"title":null,"orient":"bottom-right","labelExpr":"datum.label=='sp'?'Sparse Labels':datum.label=='tc'?'Top-Class Labels':datum.label=='so'?'Soft Labels':'Hard Labels'"}}},"layer":[{"transform":[{"filter":"datum.s=='sp'||datum.s=='tc'"}],"mark":{"type":"line","strokeWidth":1},"encoding":{"x":{"field":"x","type":"quantitative","scale":{"domain":[0,90],"nice":false},"axis":{"values":[0,50],"title":null}}}},{"transform":[{"filter":"datum.s=='so'||datum.s=='hd'"}],"mark":{"type":"rule","strokeWidth":1},"encoding":{}},{"transform":[{"filter":"datum.s=='sp'||datum.s=='tc'"},{"joinaggregate":[{"op":"min","field":"y","as":"m"}],"groupby":["s","n"]},{"filter":"datum.y==datum.m"}],"mark":{"type":"circle","size":9,"opacity":1},"encoding":{"x":{"field":"x","type":"quantitative","scale":{"domain":[0,90],"nice":false},"axis":{"values":[0,50],"title":null}},"color":{"condition":{"test":"datum.s=='sp'","value":"#8a2aa6"},"value":"#e8201c"}}}]}
]}
]},
{"title":"μ(ρ) = ρ², β = 0.0001","spacing":1,"resolve":{"legend":{"color":"independent","strokeDash":"independent"}},"hconcat":[
{"transform":[{"filter":"datum.g==6&&datum.k==30"}],"spacing":{"row":3},"facet":{"row":{"field":"n","type":"ordinal","title":"Loss (Cost - Benefit)"},"column":{"field":"k","type":"ordinal","title":null}},"spec":{"width":89,"height":83,"encoding":{"y":{"field":"y","type":"quantitative","scale":{"domain":[0,1]},"axis":null},"color":{"field":"s","type":"nominal","scale":{"domain":["sp","tc","so","hd"],"range":["#c586d9","#ff8a8a","#7cc47c","#9fd69f"]},"legend":null},"strokeDash":{"field":"s","type":"nominal","scale":{"domain":["sp","tc","so","hd"],"range":[[1,0],[1,0],[1,0],[2,1.5]]},"legend":null}},"layer":[{"transform":[{"filter":"datum.s=='sp'||datum.s=='tc'"}],"mark":{"type":"line","strokeWidth":1},"encoding":{"x":{"field":"x","type":"quantitative","scale":{"domain":[0,30],"nice":false},"axis":{"values":[0,10,20,30],"title":null}}}},{"transform":[{"filter":"datum.s=='so'||datum.s=='hd'"}],"mark":{"type":"rule","strokeWidth":1},"encoding":{}},{"transform":[{"filter":"datum.s=='sp'||datum.s=='tc'"},{"joinaggregate":[{"op":"min","field":"y","as":"m"}],"groupby":["s","n"]},{"filter":"datum.y==datum.m"}],"mark":{"type":"circle","size":9,"opacity":1},"encoding":{"x":{"field":"x","type":"quantitative","scale":{"domain":[0,30],"nice":false},"axis":{"values":[0,10,20,30],"title":null}},"color":{"condition":{"test":"datum.s=='sp'","value":"#8a2aa6"},"value":"#e8201c"}}}]}},
{"transform":[{"filter":"datum.g==6&&datum.k==60"}],"spacing":{"row":3},"facet":{"row":{"field":"n","type":"ordinal","title":null,"header":{"labels":false}},"column":{"field":"k","type":"ordinal","title":null}},"spec":{"width":89,"height":83,"encoding":{"y":{"field":"y","type":"quantitative","scale":{"domain":[0,1]},"axis":null},"color":{"field":"s","type":"nominal","scale":{"domain":["sp","tc","so","hd"],"range":["#c586d9","#ff8a8a","#7cc47c","#9fd69f"]},"legend":null},"strokeDash":{"field":"s","type":"nominal","scale":{"domain":["sp","tc","so","hd"],"range":[[1,0],[1,0],[1,0],[2,1.5]]},"legend":null}},"layer":[{"transform":[{"filter":"datum.s=='sp'||datum.s=='tc'"}],"mark":{"type":"line","strokeWidth":1},"encoding":{"x":{"field":"x","type":"quantitative","scale":{"domain":[0,60],"nice":false},"axis":{"values":[0,20,40,60],"title":"k̂ (max_features)"}}}},{"transform":[{"filter":"datum.s=='so'||datum.s=='hd'"}],"mark":{"type":"rule","strokeWidth":1},"encoding":{}},{"transform":[{"filter":"datum.s=='sp'||datum.s=='tc'"},{"joinaggregate":[{"op":"min","field":"y","as":"m"}],"groupby":["s","n"]},{"filter":"datum.y==datum.m"}],"mark":{"type":"circle","size":9,"opacity":1},"encoding":{"x":{"field":"x","type":"quantitative","scale":{"domain":[0,60],"nice":false},"axis":{"values":[0,20,40,60],"title":"k̂ (max_features)"}},"color":{"condition":{"test":"datum.s=='sp'","value":"#8a2aa6"},"value":"#e8201c"}}}]}},
{"spacing":3,"resolve":{"scale":{"x":"independent"},"legend":{"color":"independent","strokeDash":"independent"}},"vconcat":[
{"transform":[{"filter":"datum.g==6&&datum.k==90&&datum.n<90"}],"spacing":{"row":3},"facet":{"row":{"field":"n","type":"ordinal","title":null,"header":{"labels":false}},"column":{"field":"k","type":"ordinal","title":null}},"spec":{"width":89,"height":83,"encoding":{"y":{"field":"y","type":"quantitative","scale":{"domain":[0,1]},"axis":null},"color":{"field":"s","type":"nominal","scale":{"domain":["sp","tc","so","hd"],"range":["#c586d9","#ff8a8a","#7cc47c","#9fd69f"]},"legend":null},"strokeDash":{"field":"s","type":"nominal","scale":{"domain":["sp","tc","so","hd"],"range":[[1,0],[1,0],[1,0],[2,1.5]]},"legend":null}},"layer":[{"transform":[{"filter":"datum.s=='sp'||datum.s=='tc'"}],"mark":{"type":"line","strokeWidth":1},"encoding":{"x":{"field":"x","type":"quantitative","scale":{"domain":[0,90],"nice":false},"axis":null}}},{"transform":[{"filter":"datum.s=='so'||datum.s=='hd'"}],"mark":{"type":"rule","strokeWidth":1},"encoding":{}},{"transform":[{"filter":"datum.s=='sp'||datum.s=='tc'"},{"joinaggregate":[{"op":"min","field":"y","as":"m"}],"groupby":["s","n"]},{"filter":"datum.y==datum.m"}],"mark":{"type":"circle","size":9,"opacity":1},"encoding":{"x":{"field":"x","type":"quantitative","scale":{"domain":[0,90],"nice":false},"axis":null},"color":{"condition":{"test":"datum.s=='sp'","value":"#8a2aa6"},"value":"#e8201c"}}}]}},
{"transform":[{"filter":"datum.g==6&&datum.k==90&&datum.n==90"}],"width":89,"height":83,"encoding":{"y":{"field":"y","type":"quantitative","scale":{"domain":[0,1]},"axis":null},"color":{"field":"s","type":"nominal","scale":{"domain":["sp","tc","so","hd"],"range":["#c586d9","#ff8a8a","#7cc47c","#9fd69f"]},"legend":{"title":null,"orient":"bottom-right","labelExpr":"datum.label=='sp'?'Sparse Labels':datum.label=='tc'?'Top-Class Labels':datum.label=='so'?'Soft Labels':'Hard Labels'"}},"strokeDash":{"field":"s","type":"nominal","scale":{"domain":["sp","tc","so","hd"],"range":[[1,0],[1,0],[1,0],[2,1.5]]},"legend":{"title":null,"orient":"bottom-right","labelExpr":"datum.label=='sp'?'Sparse Labels':datum.label=='tc'?'Top-Class Labels':datum.label=='so'?'Soft Labels':'Hard Labels'"}}},"layer":[{"transform":[{"filter":"datum.s=='sp'||datum.s=='tc'"}],"mark":{"type":"line","strokeWidth":1},"encoding":{"x":{"field":"x","type":"quantitative","scale":{"domain":[0,90],"nice":false},"axis":{"values":[0,50],"title":null}}}},{"transform":[{"filter":"datum.s=='so'||datum.s=='hd'"}],"mark":{"type":"rule","strokeWidth":1},"encoding":{}},{"transform":[{"filter":"datum.s=='sp'||datum.s=='tc'"},{"joinaggregate":[{"op":"min","field":"y","as":"m"}],"groupby":["s","n"]},{"filter":"datum.y==datum.m"}],"mark":{"type":"circle","size":9,"opacity":1},"encoding":{"x":{"field":"x","type":"quantitative","scale":{"domain":[0,90],"nice":false},"axis":{"values":[0,50],"title":null}},"color":{"condition":{"test":"datum.s=='sp'","value":"#8a2aa6"},"value":"#e8201c"}}}]}
]}
]},
{"title":"μ(ρ) = σ(ρ), β = 5e − 05","spacing":1,"resolve":{"legend":{"color":"independent","strokeDash":"independent"}},"hconcat":[
{"transform":[{"filter":"datum.g==7&&datum.k==30"}],"spacing":{"row":3},"facet":{"row":{"field":"n","type":"ordinal","title":"Loss (Cost - Benefit)"},"column":{"field":"k","type":"ordinal","title":null}},"spec":{"width":89,"height":83,"encoding":{"y":{"field":"y","type":"quantitative","scale":{"domain":[0,1]},"axis":null},"color":{"field":"s","type":"nominal","scale":{"domain":["sp","tc","so","hd"],"range":["#c586d9","#ff8a8a","#7cc47c","#9fd69f"]},"legend":null},"strokeDash":{"field":"s","type":"nominal","scale":{"domain":["sp","tc","so","hd"],"range":[[1,0],[1,0],[1,0],[2,1.5]]},"legend":null}},"layer":[{"transform":[{"filter":"datum.s=='sp'||datum.s=='tc'"}],"mark":{"type":"line","strokeWidth":1},"encoding":{"x":{"field":"x","type":"quantitative","scale":{"domain":[0,30],"nice":false},"axis":{"values":[0,10,20,30],"title":null}}}},{"transform":[{"filter":"datum.s=='so'||datum.s=='hd'"}],"mark":{"type":"rule","strokeWidth":1},"encoding":{}},{"transform":[{"filter":"datum.s=='sp'||datum.s=='tc'"},{"joinaggregate":[{"op":"min","field":"y","as":"m"}],"groupby":["s","n"]},{"filter":"datum.y==datum.m"}],"mark":{"type":"circle","size":9,"opacity":1},"encoding":{"x":{"field":"x","type":"quantitative","scale":{"domain":[0,30],"nice":false},"axis":{"values":[0,10,20,30],"title":null}},"color":{"condition":{"test":"datum.s=='sp'","value":"#8a2aa6"},"value":"#e8201c"}}}]}},
{"transform":[{"filter":"datum.g==7&&datum.k==60"}],"spacing":{"row":3},"facet":{"row":{"field":"n","type":"ordinal","title":null,"header":{"labels":false}},"column":{"field":"k","type":"ordinal","title":null}},"spec":{"width":89,"height":83,"encoding":{"y":{"field":"y","type":"quantitative","scale":{"domain":[0,1]},"axis":null},"color":{"field":"s","type":"nominal","scale":{"domain":["sp","tc","so","hd"],"range":["#c586d9","#ff8a8a","#7cc47c","#9fd69f"]},"legend":null},"strokeDash":{"field":"s","type":"nominal","scale":{"domain":["sp","tc","so","hd"],"range":[[1,0],[1,0],[1,0],[2,1.5]]},"legend":null}},"layer":[{"transform":[{"filter":"datum.s=='sp'||datum.s=='tc'"}],"mark":{"type":"line","strokeWidth":1},"encoding":{"x":{"field":"x","type":"quantitative","scale":{"domain":[0,60],"nice":false},"axis":{"values":[0,20,40,60],"title":"k̂ (max_features)"}}}},{"transform":[{"filter":"datum.s=='so'||datum.s=='hd'"}],"mark":{"type":"rule","strokeWidth":1},"encoding":{}},{"transform":[{"filter":"datum.s=='sp'||datum.s=='tc'"},{"joinaggregate":[{"op":"min","field":"y","as":"m"}],"groupby":["s","n"]},{"filter":"datum.y==datum.m"}],"mark":{"type":"circle","size":9,"opacity":1},"encoding":{"x":{"field":"x","type":"quantitative","scale":{"domain":[0,60],"nice":false},"axis":{"values":[0,20,40,60],"title":"k̂ (max_features)"}},"color":{"condition":{"test":"datum.s=='sp'","value":"#8a2aa6"},"value":"#e8201c"}}}]}},
{"spacing":3,"resolve":{"scale":{"x":"independent"},"legend":{"color":"independent","strokeDash":"independent"}},"vconcat":[
{"transform":[{"filter":"datum.g==7&&datum.k==90&&datum.n<90"}],"spacing":{"row":3},"facet":{"row":{"field":"n","type":"ordinal","title":null,"header":{"labels":false}},"column":{"field":"k","type":"ordinal","title":null}},"spec":{"width":89,"height":83,"encoding":{"y":{"field":"y","type":"quantitative","scale":{"domain":[0,1]},"axis":null},"color":{"field":"s","type":"nominal","scale":{"domain":["sp","tc","so","hd"],"range":["#c586d9","#ff8a8a","#7cc47c","#9fd69f"]},"legend":null},"strokeDash":{"field":"s","type":"nominal","scale":{"domain":["sp","tc","so","hd"],"range":[[1,0],[1,0],[1,0],[2,1.5]]},"legend":null}},"layer":[{"transform":[{"filter":"datum.s=='sp'||datum.s=='tc'"}],"mark":{"type":"line","strokeWidth":1},"encoding":{"x":{"field":"x","type":"quantitative","scale":{"domain":[0,90],"nice":false},"axis":null}}},{"transform":[{"filter":"datum.s=='so'||datum.s=='hd'"}],"mark":{"type":"rule","strokeWidth":1},"encoding":{}},{"transform":[{"filter":"datum.s=='sp'||datum.s=='tc'"},{"joinaggregate":[{"op":"min","field":"y","as":"m"}],"groupby":["s","n"]},{"filter":"datum.y==datum.m"}],"mark":{"type":"circle","size":9,"opacity":1},"encoding":{"x":{"field":"x","type":"quantitative","scale":{"domain":[0,90],"nice":false},"axis":null},"color":{"condition":{"test":"datum.s=='sp'","value":"#8a2aa6"},"value":"#e8201c"}}}]}},
{"transform":[{"filter":"datum.g==7&&datum.k==90&&datum.n==90"}],"width":89,"height":83,"encoding":{"y":{"field":"y","type":"quantitative","scale":{"domain":[0,1]},"axis":null},"color":{"field":"s","type":"nominal","scale":{"domain":["sp","tc","so","hd"],"range":["#c586d9","#ff8a8a","#7cc47c","#9fd69f"]},"legend":{"title":null,"orient":"bottom-right","labelExpr":"datum.label=='sp'?'Sparse Labels':datum.label=='tc'?'Top-Class Labels':datum.label=='so'?'Soft Labels':'Hard Labels'"}},"strokeDash":{"field":"s","type":"nominal","scale":{"domain":["sp","tc","so","hd"],"range":[[1,0],[1,0],[1,0],[2,1.5]]},"legend":{"title":null,"orient":"bottom-right","labelExpr":"datum.label=='sp'?'Sparse Labels':datum.label=='tc'?'Top-Class Labels':datum.label=='so'?'Soft Labels':'Hard Labels'"}}},"layer":[{"transform":[{"filter":"datum.s=='sp'||datum.s=='tc'"}],"mark":{"type":"line","strokeWidth":1},"encoding":{"x":{"field":"x","type":"quantitative","scale":{"domain":[0,90],"nice":false},"axis":{"values":[0,50],"title":null}}}},{"transform":[{"filter":"datum.s=='so'||datum.s=='hd'"}],"mark":{"type":"rule","strokeWidth":1},"encoding":{}},{"transform":[{"filter":"datum.s=='sp'||datum.s=='tc'"},{"joinaggregate":[{"op":"min","field":"y","as":"m"}],"groupby":["s","n"]},{"filter":"datum.y==datum.m"}],"mark":{"type":"circle","size":9,"opacity":1},"encoding":{"x":{"field":"x","type":"quantitative","scale":{"domain":[0,90],"nice":false},"axis":{"values":[0,50],"title":null}},"color":{"condition":{"test":"datum.s=='sp'","value":"#8a2aa6"},"value":"#e8201c"}}}]}
]}
]},
{"title":"μ(ρ) = σ⁻¹(ρ), β = 0.001","spacing":1,"resolve":{"legend":{"color":"independent","strokeDash":"independent"}},"hconcat":[
{"transform":[{"filter":"datum.g==8&&datum.k==30"}],"spacing":{"row":3},"facet":{"row":{"field":"n","type":"ordinal","title":"Loss (Cost - Benefit)"},"column":{"field":"k","type":"ordinal","title":null}},"spec":{"width":89,"height":83,"encoding":{"y":{"field":"y","type":"quantitative","scale":{"domain":[0,1]},"axis":null},"color":{"field":"s","type":"nominal","scale":{"domain":["sp","tc","so","hd"],"range":["#c586d9","#ff8a8a","#7cc47c","#9fd69f"]},"legend":null},"strokeDash":{"field":"s","type":"nominal","scale":{"domain":["sp","tc","so","hd"],"range":[[1,0],[1,0],[1,0],[2,1.5]]},"legend":null}},"layer":[{"transform":[{"filter":"datum.s=='sp'||datum.s=='tc'"}],"mark":{"type":"line","strokeWidth":1},"encoding":{"x":{"field":"x","type":"quantitative","scale":{"domain":[0,30],"nice":false},"axis":{"values":[0,10,20,30],"title":null}}}},{"transform":[{"filter":"datum.s=='so'||datum.s=='hd'"}],"mark":{"type":"rule","strokeWidth":1},"encoding":{}},{"transform":[{"filter":"datum.s=='sp'||datum.s=='tc'"},{"joinaggregate":[{"op":"min","field":"y","as":"m"}],"groupby":["s","n"]},{"filter":"datum.y==datum.m"}],"mark":{"type":"circle","size":9,"opacity":1},"encoding":{"x":{"field":"x","type":"quantitative","scale":{"domain":[0,30],"nice":false},"axis":{"values":[0,10,20,30],"title":null}},"color":{"condition":{"test":"datum.s=='sp'","value":"#8a2aa6"},"value":"#e8201c"}}}]}},
{"transform":[{"filter":"datum.g==8&&datum.k==60"}],"spacing":{"row":3},"facet":{"row":{"field":"n","type":"ordinal","title":null,"header":{"labels":false}},"column":{"field":"k","type":"ordinal","title":null}},"spec":{"width":89,"height":83,"encoding":{"y":{"field":"y","type":"quantitative","scale":{"domain":[0,1]},"axis":null},"color":{"field":"s","type":"nominal","scale":{"domain":["sp","tc","so","hd"],"range":["#c586d9","#ff8a8a","#7cc47c","#9fd69f"]},"legend":null},"strokeDash":{"field":"s","type":"nominal","scale":{"domain":["sp","tc","so","hd"],"range":[[1,0],[1,0],[1,0],[2,1.5]]},"legend":null}},"layer":[{"transform":[{"filter":"datum.s=='sp'||datum.s=='tc'"}],"mark":{"type":"line","strokeWidth":1},"encoding":{"x":{"field":"x","type":"quantitative","scale":{"domain":[0,60],"nice":false},"axis":{"values":[0,20,40,60],"title":"k̂ (max_features)"}}}},{"transform":[{"filter":"datum.s=='so'||datum.s=='hd'"}],"mark":{"type":"rule","strokeWidth":1},"encoding":{}},{"transform":[{"filter":"datum.s=='sp'||datum.s=='tc'"},{"joinaggregate":[{"op":"min","field":"y","as":"m"}],"groupby":["s","n"]},{"filter":"datum.y==datum.m"}],"mark":{"type":"circle","size":9,"opacity":1},"encoding":{"x":{"field":"x","type":"quantitative","scale":{"domain":[0,60],"nice":false},"axis":{"values":[0,20,40,60],"title":"k̂ (max_features)"}},"color":{"condition":{"test":"datum.s=='sp'","value":"#8a2aa6"},"value":"#e8201c"}}}]}},
{"spacing":3,"resolve":{"scale":{"x":"independent"},"legend":{"color":"independent","strokeDash":"independent"}},"vconcat":[
{"transform":[{"filter":"datum.g==8&&datum.k==90&&datum.n<90"}],"spacing":{"row":3},"facet":{"row":{"field":"n","type":"ordinal","title":null,"header":{"labels":false}},"column":{"field":"k","type":"ordinal","title":null}},"spec":{"width":89,"height":83,"encoding":{"y":{"field":"y","type":"quantitative","scale":{"domain":[0,1]},"axis":null},"color":{"field":"s","type":"nominal","scale":{"domain":["sp","tc","so","hd"],"range":["#c586d9","#ff8a8a","#7cc47c","#9fd69f"]},"legend":null},"strokeDash":{"field":"s","type":"nominal","scale":{"domain":["sp","tc","so","hd"],"range":[[1,0],[1,0],[1,0],[2,1.5]]},"legend":null}},"layer":[{"transform":[{"filter":"datum.s=='sp'||datum.s=='tc'"}],"mark":{"type":"line","strokeWidth":1},"encoding":{"x":{"field":"x","type":"quantitative","scale":{"domain":[0,90],"nice":false},"axis":null}}},{"transform":[{"filter":"datum.s=='so'||datum.s=='hd'"}],"mark":{"type":"rule","strokeWidth":1},"encoding":{}},{"transform":[{"filter":"datum.s=='sp'||datum.s=='tc'"},{"joinaggregate":[{"op":"min","field":"y","as":"m"}],"groupby":["s","n"]},{"filter":"datum.y==datum.m"}],"mark":{"type":"circle","size":9,"opacity":1},"encoding":{"x":{"field":"x","type":"quantitative","scale":{"domain":[0,90],"nice":false},"axis":null},"color":{"condition":{"test":"datum.s=='sp'","value":"#8a2aa6"},"value":"#e8201c"}}}]}},
{"transform":[{"filter":"datum.g==8&&datum.k==90&&datum.n==90"}],"width":89,"height":83,"encoding":{"y":{"field":"y","type":"quantitative","scale":{"domain":[0,1]},"axis":null},"color":{"field":"s","type":"nominal","scale":{"domain":["sp","tc","so","hd"],"range":["#c586d9","#ff8a8a","#7cc47c","#9fd69f"]},"legend":{"title":null,"orient":"bottom-right","labelExpr":"datum.label=='sp'?'Sparse Labels':datum.label=='tc'?'Top-Class Labels':datum.label=='so'?'Soft Labels':'Hard Labels'"}},"strokeDash":{"field":"s","type":"nominal","scale":{"domain":["sp","tc","so","hd"],"range":[[1,0],[1,0],[1,0],[2,1.5]]},"legend":{"title":null,"orient":"bottom-right","labelExpr":"datum.label=='sp'?'Sparse Labels':datum.label=='tc'?'Top-Class Labels':datum.label=='so'?'Soft Labels':'Hard Labels'"}}},"layer":[{"transform":[{"filter":"datum.s=='sp'||datum.s=='tc'"}],"mark":{"type":"line","strokeWidth":1},"encoding":{"x":{"field":"x","type":"quantitative","scale":{"domain":[0,90],"nice":false},"axis":{"values":[0,50],"title":null}}}},{"transform":[{"filter":"datum.s=='so'||datum.s=='hd'"}],"mark":{"type":"rule","strokeWidth":1},"encoding":{}},{"transform":[{"filter":"datum.s=='sp'||datum.s=='tc'"},{"joinaggregate":[{"op":"min","field":"y","as":"m"}],"groupby":["s","n"]},{"filter":"datum.y==datum.m"}],"mark":{"type":"circle","size":9,"opacity":1},"encoding":{"x":{"field":"x","type":"quantitative","scale":{"domain":[0,90],"nice":false},"axis":{"values":[0,50],"title":null}},"color":{"condition":{"test":"datum.s=='sp'","value":"#8a2aa6"},"value":"#e8201c"}}}]}
]}
]}
]}
],
"config":{
"font":"DejaVu Sans",
"view":{"stroke":"#cccccc","strokeWidth":1},
"axis":{"labelFont":"DejaVu Sans","labelFontSize":11,"labelColor":"#444444","ticks":false,"domain":false,"grid":false,"labelPadding":1,"titleFont":"DejaVu Sans","titleFontSize":12,"titleFontWeight":"normal","titleColor":"#222222","titlePadding":3,"labelOverlap":false,"labelFlush":true,"labelBound":false},
"headerRow":{"labelFont":"DejaVu Sans","labelFontSize":10,"labelColor":"#444444","labelPadding":-3,"labelExpr":"'n=' + datum.value","titleFont":"DejaVu Sans","titleFontSize":12,"titleFontWeight":"normal","titleColor":"#222222","titlePadding":-6},
"headerColumn":{"labelFont":"DejaVu Sans","labelFontSize":12,"labelColor":"#222222","labelPadding":-4,"labelExpr":"'k=' + datum.value"},
"title":{"font":"DejaVu Sans","fontSize":11,"fontWeight":"normal","color":"#222222","offset":2,"anchor":"middle"},
"legend":{"labelFont":"DejaVu Sans","labelFontSize":4.5,"labelColor":"#333333","symbolType":"stroke","symbolSize":30,"symbolStrokeWidth":1,"rowPadding":0,"padding":2,"strokeColor":"#cccccc","fillColor":"#ffffff","cornerRadius":2,"offset":3,"labelOffset":3}
}
}
